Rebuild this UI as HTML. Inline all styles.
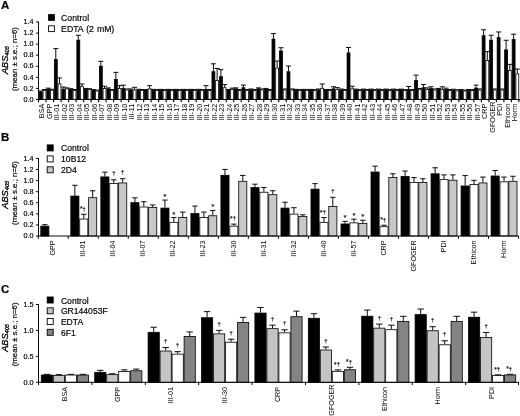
<!DOCTYPE html>
<html lang="en">
<head>
<meta charset="utf-8">
<title>Figure</title>
<style>
html,body{margin:0;padding:0;background:#fff;}
svg{display:block;filter:grayscale(1);}
svg text{font-family:"Liberation Sans", Arial, sans-serif;stroke:#000;stroke-width:0.18px;}
</style>
</head>
<body>
<svg width="520" height="416" viewBox="0 0 520 416">
<rect x="0" y="0" width="520" height="416" fill="#fff"/>
<text x="1.00" y="9.20" font-size="11.5" text-anchor="start" font-weight="bold" fill="#000">A</text>
<line x1="40.80" y1="91.47" x2="40.80" y2="90.92" stroke="#000" stroke-width="0.95"/>
<line x1="38.30" y1="90.92" x2="43.30" y2="90.92" stroke="#000" stroke-width="0.95"/>
<rect x="39.35" y="91.87" width="2.90" height="7.63" fill="#000" stroke="#000" stroke-width="0.8"/>
<line x1="44.50" y1="90.09" x2="44.50" y2="89.54" stroke="#000" stroke-width="0.95"/>
<line x1="42.00" y1="89.54" x2="47.00" y2="89.54" stroke="#000" stroke-width="0.95"/>
<rect x="43.05" y="90.49" width="2.90" height="9.01" fill="#fff" stroke="#000" stroke-width="0.8"/>
<line x1="38.60" y1="99.50" x2="38.60" y2="102.20" stroke="#000" stroke-width="1.1"/>
<text transform="translate(44.34 103.75) rotate(-90)" font-size="7.2" text-anchor="end" style="stroke:none">BSA</text>
<line x1="48.31" y1="88.70" x2="48.31" y2="88.15" stroke="#000" stroke-width="0.95"/>
<line x1="45.81" y1="88.15" x2="50.81" y2="88.15" stroke="#000" stroke-width="0.95"/>
<rect x="46.86" y="89.10" width="2.90" height="10.40" fill="#000" stroke="#000" stroke-width="0.8"/>
<line x1="52.01" y1="89.81" x2="52.01" y2="89.26" stroke="#000" stroke-width="0.95"/>
<line x1="49.51" y1="89.26" x2="54.51" y2="89.26" stroke="#000" stroke-width="0.95"/>
<rect x="50.56" y="90.21" width="2.90" height="9.29" fill="#fff" stroke="#000" stroke-width="0.8"/>
<line x1="46.11" y1="99.50" x2="46.11" y2="102.20" stroke="#000" stroke-width="1.1"/>
<text transform="translate(51.85 103.75) rotate(-90)" font-size="7.2" text-anchor="end" style="stroke:none">GPP</text>
<line x1="55.81" y1="59.09" x2="55.81" y2="48.57" stroke="#000" stroke-width="0.95"/>
<line x1="53.31" y1="48.57" x2="58.31" y2="48.57" stroke="#000" stroke-width="0.95"/>
<rect x="54.36" y="59.49" width="2.90" height="40.01" fill="#000" stroke="#000" stroke-width="0.8"/>
<line x1="59.51" y1="83.45" x2="59.51" y2="77.91" stroke="#000" stroke-width="0.95"/>
<line x1="57.01" y1="77.91" x2="62.01" y2="77.91" stroke="#000" stroke-width="0.95"/>
<rect x="58.06" y="83.85" width="2.90" height="15.65" fill="#fff" stroke="#000" stroke-width="0.8"/>
<line x1="53.61" y1="99.50" x2="53.61" y2="102.20" stroke="#000" stroke-width="1.1"/>
<text transform="translate(59.35 103.75) rotate(-90)" font-size="7.2" text-anchor="end" style="stroke:none">III-01</text>
<line x1="63.32" y1="88.70" x2="63.32" y2="87.04" stroke="#000" stroke-width="0.95"/>
<line x1="60.82" y1="87.04" x2="65.81" y2="87.04" stroke="#000" stroke-width="0.95"/>
<rect x="61.87" y="89.10" width="2.90" height="10.40" fill="#000" stroke="#000" stroke-width="0.8"/>
<line x1="67.02" y1="88.43" x2="67.02" y2="87.87" stroke="#000" stroke-width="0.95"/>
<line x1="64.52" y1="87.87" x2="69.52" y2="87.87" stroke="#000" stroke-width="0.95"/>
<rect x="65.57" y="88.83" width="2.90" height="10.67" fill="#fff" stroke="#000" stroke-width="0.8"/>
<line x1="61.12" y1="99.50" x2="61.12" y2="102.20" stroke="#000" stroke-width="1.1"/>
<text transform="translate(66.86 103.75) rotate(-90)" font-size="7.2" text-anchor="end" style="stroke:none">III-02</text>
<line x1="70.82" y1="89.26" x2="70.82" y2="88.70" stroke="#000" stroke-width="0.95"/>
<line x1="68.32" y1="88.70" x2="73.32" y2="88.70" stroke="#000" stroke-width="0.95"/>
<rect x="69.37" y="89.66" width="2.90" height="9.84" fill="#000" stroke="#000" stroke-width="0.8"/>
<line x1="74.52" y1="90.09" x2="74.52" y2="89.54" stroke="#000" stroke-width="0.95"/>
<line x1="72.02" y1="89.54" x2="77.02" y2="89.54" stroke="#000" stroke-width="0.95"/>
<rect x="73.07" y="90.49" width="2.90" height="9.01" fill="#fff" stroke="#000" stroke-width="0.8"/>
<line x1="68.62" y1="99.50" x2="68.62" y2="102.20" stroke="#000" stroke-width="1.1"/>
<text transform="translate(74.36 103.75) rotate(-90)" font-size="7.2" text-anchor="end" style="stroke:none">III-03</text>
<line x1="78.32" y1="39.71" x2="78.32" y2="35.28" stroke="#000" stroke-width="0.95"/>
<line x1="75.82" y1="35.28" x2="80.82" y2="35.28" stroke="#000" stroke-width="0.95"/>
<rect x="76.88" y="40.11" width="2.90" height="59.39" fill="#000" stroke="#000" stroke-width="0.8"/>
<line x1="82.02" y1="86.21" x2="82.02" y2="84.00" stroke="#000" stroke-width="0.95"/>
<line x1="79.52" y1="84.00" x2="84.52" y2="84.00" stroke="#000" stroke-width="0.95"/>
<rect x="80.58" y="86.61" width="2.90" height="12.89" fill="#fff" stroke="#000" stroke-width="0.8"/>
<line x1="76.12" y1="99.50" x2="76.12" y2="102.20" stroke="#000" stroke-width="1.1"/>
<text transform="translate(81.87 103.75) rotate(-90)" font-size="7.2" text-anchor="end" style="stroke:none">III-04</text>
<line x1="85.83" y1="88.98" x2="85.83" y2="88.43" stroke="#000" stroke-width="0.95"/>
<line x1="83.33" y1="88.43" x2="88.33" y2="88.43" stroke="#000" stroke-width="0.95"/>
<rect x="84.38" y="89.38" width="2.90" height="10.12" fill="#000" stroke="#000" stroke-width="0.8"/>
<line x1="89.53" y1="89.26" x2="89.53" y2="88.70" stroke="#000" stroke-width="0.95"/>
<line x1="87.03" y1="88.70" x2="92.03" y2="88.70" stroke="#000" stroke-width="0.95"/>
<rect x="88.08" y="89.66" width="2.90" height="9.84" fill="#fff" stroke="#000" stroke-width="0.8"/>
<line x1="83.63" y1="99.50" x2="83.63" y2="102.20" stroke="#000" stroke-width="1.1"/>
<text transform="translate(89.37 103.75) rotate(-90)" font-size="7.2" text-anchor="end" style="stroke:none">III-05</text>
<line x1="93.33" y1="90.09" x2="93.33" y2="89.54" stroke="#000" stroke-width="0.95"/>
<line x1="90.83" y1="89.54" x2="95.83" y2="89.54" stroke="#000" stroke-width="0.95"/>
<rect x="91.88" y="90.49" width="2.90" height="9.01" fill="#000" stroke="#000" stroke-width="0.8"/>
<line x1="97.03" y1="90.64" x2="97.03" y2="90.09" stroke="#000" stroke-width="0.95"/>
<line x1="94.53" y1="90.09" x2="99.53" y2="90.09" stroke="#000" stroke-width="0.95"/>
<rect x="95.58" y="91.04" width="2.90" height="8.46" fill="#fff" stroke="#000" stroke-width="0.8"/>
<line x1="91.13" y1="99.50" x2="91.13" y2="102.20" stroke="#000" stroke-width="1.1"/>
<text transform="translate(96.88 103.75) rotate(-90)" font-size="7.2" text-anchor="end" style="stroke:none">III-06</text>
<line x1="100.84" y1="65.73" x2="100.84" y2="61.30" stroke="#000" stroke-width="0.95"/>
<line x1="98.34" y1="61.30" x2="103.34" y2="61.30" stroke="#000" stroke-width="0.95"/>
<rect x="99.39" y="66.13" width="2.90" height="33.37" fill="#000" stroke="#000" stroke-width="0.8"/>
<line x1="104.54" y1="88.15" x2="104.54" y2="86.21" stroke="#000" stroke-width="0.95"/>
<line x1="102.04" y1="86.21" x2="107.04" y2="86.21" stroke="#000" stroke-width="0.95"/>
<rect x="103.09" y="88.55" width="2.90" height="10.95" fill="#fff" stroke="#000" stroke-width="0.8"/>
<line x1="98.64" y1="99.50" x2="98.64" y2="102.20" stroke="#000" stroke-width="1.1"/>
<text transform="translate(104.38 103.75) rotate(-90)" font-size="7.2" text-anchor="end" style="stroke:none">III-07</text>
<line x1="108.34" y1="88.43" x2="108.34" y2="87.87" stroke="#000" stroke-width="0.95"/>
<line x1="105.84" y1="87.87" x2="110.84" y2="87.87" stroke="#000" stroke-width="0.95"/>
<rect x="106.90" y="88.83" width="2.90" height="10.67" fill="#000" stroke="#000" stroke-width="0.8"/>
<line x1="112.05" y1="90.09" x2="112.05" y2="89.54" stroke="#000" stroke-width="0.95"/>
<line x1="109.55" y1="89.54" x2="114.55" y2="89.54" stroke="#000" stroke-width="0.95"/>
<rect x="110.60" y="90.49" width="2.90" height="9.01" fill="#fff" stroke="#000" stroke-width="0.8"/>
<line x1="106.15" y1="99.50" x2="106.15" y2="102.20" stroke="#000" stroke-width="1.1"/>
<text transform="translate(111.89 103.75) rotate(-90)" font-size="7.2" text-anchor="end" style="stroke:none">III-08</text>
<line x1="115.85" y1="79.02" x2="115.85" y2="72.37" stroke="#000" stroke-width="0.95"/>
<line x1="113.35" y1="72.37" x2="118.35" y2="72.37" stroke="#000" stroke-width="0.95"/>
<rect x="114.40" y="79.42" width="2.90" height="20.08" fill="#000" stroke="#000" stroke-width="0.8"/>
<line x1="119.55" y1="88.15" x2="119.55" y2="85.66" stroke="#000" stroke-width="0.95"/>
<line x1="117.05" y1="85.66" x2="122.05" y2="85.66" stroke="#000" stroke-width="0.95"/>
<rect x="118.10" y="88.55" width="2.90" height="10.95" fill="#fff" stroke="#000" stroke-width="0.8"/>
<line x1="113.65" y1="99.50" x2="113.65" y2="102.20" stroke="#000" stroke-width="1.1"/>
<text transform="translate(119.39 103.75) rotate(-90)" font-size="7.2" text-anchor="end" style="stroke:none">III-09</text>
<line x1="123.35" y1="88.15" x2="123.35" y2="85.11" stroke="#000" stroke-width="0.95"/>
<line x1="120.85" y1="85.11" x2="125.85" y2="85.11" stroke="#000" stroke-width="0.95"/>
<rect x="121.91" y="88.55" width="2.90" height="10.95" fill="#000" stroke="#000" stroke-width="0.8"/>
<line x1="127.05" y1="89.54" x2="127.05" y2="88.98" stroke="#000" stroke-width="0.95"/>
<line x1="124.55" y1="88.98" x2="129.56" y2="88.98" stroke="#000" stroke-width="0.95"/>
<rect x="125.61" y="89.94" width="2.90" height="9.56" fill="#fff" stroke="#000" stroke-width="0.8"/>
<line x1="121.16" y1="99.50" x2="121.16" y2="102.20" stroke="#000" stroke-width="1.1"/>
<text transform="translate(126.90 103.75) rotate(-90)" font-size="7.2" text-anchor="end" style="stroke:none">III-10</text>
<line x1="130.86" y1="89.54" x2="130.86" y2="88.98" stroke="#000" stroke-width="0.95"/>
<line x1="128.36" y1="88.98" x2="133.36" y2="88.98" stroke="#000" stroke-width="0.95"/>
<rect x="129.41" y="89.94" width="2.90" height="9.56" fill="#000" stroke="#000" stroke-width="0.8"/>
<line x1="134.56" y1="89.54" x2="134.56" y2="87.32" stroke="#000" stroke-width="0.95"/>
<line x1="132.06" y1="87.32" x2="137.06" y2="87.32" stroke="#000" stroke-width="0.95"/>
<rect x="133.11" y="89.94" width="2.90" height="9.56" fill="#fff" stroke="#000" stroke-width="0.8"/>
<line x1="128.66" y1="99.50" x2="128.66" y2="102.20" stroke="#000" stroke-width="1.1"/>
<text transform="translate(134.40 103.75) rotate(-90)" font-size="7.2" text-anchor="end" style="stroke:none">III-11</text>
<line x1="138.36" y1="89.81" x2="138.36" y2="89.26" stroke="#000" stroke-width="0.95"/>
<line x1="135.86" y1="89.26" x2="140.86" y2="89.26" stroke="#000" stroke-width="0.95"/>
<rect x="136.91" y="90.21" width="2.90" height="9.29" fill="#000" stroke="#000" stroke-width="0.8"/>
<line x1="142.06" y1="90.09" x2="142.06" y2="89.54" stroke="#000" stroke-width="0.95"/>
<line x1="139.56" y1="89.54" x2="144.56" y2="89.54" stroke="#000" stroke-width="0.95"/>
<rect x="140.61" y="90.49" width="2.90" height="9.01" fill="#fff" stroke="#000" stroke-width="0.8"/>
<line x1="136.16" y1="99.50" x2="136.16" y2="102.20" stroke="#000" stroke-width="1.1"/>
<text transform="translate(141.91 103.75) rotate(-90)" font-size="7.2" text-anchor="end" style="stroke:none">III-12</text>
<line x1="145.87" y1="90.09" x2="145.87" y2="89.54" stroke="#000" stroke-width="0.95"/>
<line x1="143.37" y1="89.54" x2="148.37" y2="89.54" stroke="#000" stroke-width="0.95"/>
<rect x="144.42" y="90.49" width="2.90" height="9.01" fill="#000" stroke="#000" stroke-width="0.8"/>
<line x1="149.57" y1="88.43" x2="149.57" y2="85.66" stroke="#000" stroke-width="0.95"/>
<line x1="147.07" y1="85.66" x2="152.07" y2="85.66" stroke="#000" stroke-width="0.95"/>
<rect x="148.12" y="88.83" width="2.90" height="10.67" fill="#fff" stroke="#000" stroke-width="0.8"/>
<line x1="143.67" y1="99.50" x2="143.67" y2="102.20" stroke="#000" stroke-width="1.1"/>
<text transform="translate(149.41 103.75) rotate(-90)" font-size="7.2" text-anchor="end" style="stroke:none">III-13</text>
<line x1="153.38" y1="89.81" x2="153.38" y2="89.37" stroke="#000" stroke-width="0.95"/>
<line x1="150.88" y1="89.37" x2="155.88" y2="89.37" stroke="#000" stroke-width="0.95"/>
<rect x="151.93" y="90.21" width="2.90" height="9.29" fill="#000" stroke="#000" stroke-width="0.8"/>
<line x1="157.07" y1="90.09" x2="157.07" y2="89.65" stroke="#000" stroke-width="0.95"/>
<line x1="154.57" y1="89.65" x2="159.57" y2="89.65" stroke="#000" stroke-width="0.95"/>
<rect x="155.62" y="90.49" width="2.90" height="9.01" fill="#fff" stroke="#000" stroke-width="0.8"/>
<line x1="151.18" y1="99.50" x2="151.18" y2="102.20" stroke="#000" stroke-width="1.1"/>
<text transform="translate(156.92 103.75) rotate(-90)" font-size="7.2" text-anchor="end" style="stroke:none">III-14</text>
<line x1="160.88" y1="89.81" x2="160.88" y2="89.37" stroke="#000" stroke-width="0.95"/>
<line x1="158.38" y1="89.37" x2="163.38" y2="89.37" stroke="#000" stroke-width="0.95"/>
<rect x="159.43" y="90.21" width="2.90" height="9.29" fill="#000" stroke="#000" stroke-width="0.8"/>
<line x1="164.58" y1="90.09" x2="164.58" y2="89.65" stroke="#000" stroke-width="0.95"/>
<line x1="162.08" y1="89.65" x2="167.08" y2="89.65" stroke="#000" stroke-width="0.95"/>
<rect x="163.13" y="90.49" width="2.90" height="9.01" fill="#fff" stroke="#000" stroke-width="0.8"/>
<line x1="158.68" y1="99.50" x2="158.68" y2="102.20" stroke="#000" stroke-width="1.1"/>
<text transform="translate(164.42 103.75) rotate(-90)" font-size="7.2" text-anchor="end" style="stroke:none">III-15</text>
<line x1="168.38" y1="89.81" x2="168.38" y2="89.37" stroke="#000" stroke-width="0.95"/>
<line x1="165.88" y1="89.37" x2="170.88" y2="89.37" stroke="#000" stroke-width="0.95"/>
<rect x="166.94" y="90.21" width="2.90" height="9.29" fill="#000" stroke="#000" stroke-width="0.8"/>
<line x1="172.08" y1="90.09" x2="172.08" y2="89.65" stroke="#000" stroke-width="0.95"/>
<line x1="169.58" y1="89.65" x2="174.58" y2="89.65" stroke="#000" stroke-width="0.95"/>
<rect x="170.63" y="90.49" width="2.90" height="9.01" fill="#fff" stroke="#000" stroke-width="0.8"/>
<line x1="166.19" y1="99.50" x2="166.19" y2="102.20" stroke="#000" stroke-width="1.1"/>
<text transform="translate(171.93 103.75) rotate(-90)" font-size="7.2" text-anchor="end" style="stroke:none">III-16</text>
<line x1="175.89" y1="89.81" x2="175.89" y2="89.37" stroke="#000" stroke-width="0.95"/>
<line x1="173.39" y1="89.37" x2="178.39" y2="89.37" stroke="#000" stroke-width="0.95"/>
<rect x="174.44" y="90.21" width="2.90" height="9.29" fill="#000" stroke="#000" stroke-width="0.8"/>
<line x1="179.59" y1="90.09" x2="179.59" y2="89.65" stroke="#000" stroke-width="0.95"/>
<line x1="177.09" y1="89.65" x2="182.09" y2="89.65" stroke="#000" stroke-width="0.95"/>
<rect x="178.14" y="90.49" width="2.90" height="9.01" fill="#fff" stroke="#000" stroke-width="0.8"/>
<line x1="173.69" y1="99.50" x2="173.69" y2="102.20" stroke="#000" stroke-width="1.1"/>
<text transform="translate(179.43 103.75) rotate(-90)" font-size="7.2" text-anchor="end" style="stroke:none">III-17</text>
<line x1="183.39" y1="89.81" x2="183.39" y2="89.37" stroke="#000" stroke-width="0.95"/>
<line x1="180.89" y1="89.37" x2="185.89" y2="89.37" stroke="#000" stroke-width="0.95"/>
<rect x="181.94" y="90.21" width="2.90" height="9.29" fill="#000" stroke="#000" stroke-width="0.8"/>
<line x1="187.09" y1="90.09" x2="187.09" y2="89.65" stroke="#000" stroke-width="0.95"/>
<line x1="184.59" y1="89.65" x2="189.59" y2="89.65" stroke="#000" stroke-width="0.95"/>
<rect x="185.64" y="90.49" width="2.90" height="9.01" fill="#fff" stroke="#000" stroke-width="0.8"/>
<line x1="181.19" y1="99.50" x2="181.19" y2="102.20" stroke="#000" stroke-width="1.1"/>
<text transform="translate(186.94 103.75) rotate(-90)" font-size="7.2" text-anchor="end" style="stroke:none">III-18</text>
<line x1="190.90" y1="89.81" x2="190.90" y2="89.37" stroke="#000" stroke-width="0.95"/>
<line x1="188.40" y1="89.37" x2="193.40" y2="89.37" stroke="#000" stroke-width="0.95"/>
<rect x="189.45" y="90.21" width="2.90" height="9.29" fill="#000" stroke="#000" stroke-width="0.8"/>
<line x1="194.60" y1="90.09" x2="194.60" y2="89.65" stroke="#000" stroke-width="0.95"/>
<line x1="192.10" y1="89.65" x2="197.10" y2="89.65" stroke="#000" stroke-width="0.95"/>
<rect x="193.15" y="90.49" width="2.90" height="9.01" fill="#fff" stroke="#000" stroke-width="0.8"/>
<line x1="188.70" y1="99.50" x2="188.70" y2="102.20" stroke="#000" stroke-width="1.1"/>
<text transform="translate(194.44 103.75) rotate(-90)" font-size="7.2" text-anchor="end" style="stroke:none">III-19</text>
<line x1="198.40" y1="89.81" x2="198.40" y2="89.37" stroke="#000" stroke-width="0.95"/>
<line x1="195.90" y1="89.37" x2="200.90" y2="89.37" stroke="#000" stroke-width="0.95"/>
<rect x="196.95" y="90.21" width="2.90" height="9.29" fill="#000" stroke="#000" stroke-width="0.8"/>
<line x1="202.10" y1="90.09" x2="202.10" y2="89.65" stroke="#000" stroke-width="0.95"/>
<line x1="199.60" y1="89.65" x2="204.60" y2="89.65" stroke="#000" stroke-width="0.95"/>
<rect x="200.65" y="90.49" width="2.90" height="9.01" fill="#fff" stroke="#000" stroke-width="0.8"/>
<line x1="196.20" y1="99.50" x2="196.20" y2="102.20" stroke="#000" stroke-width="1.1"/>
<text transform="translate(201.95 103.75) rotate(-90)" font-size="7.2" text-anchor="end" style="stroke:none">III-20</text>
<line x1="205.91" y1="88.98" x2="205.91" y2="85.66" stroke="#000" stroke-width="0.95"/>
<line x1="203.41" y1="85.66" x2="208.41" y2="85.66" stroke="#000" stroke-width="0.95"/>
<rect x="204.46" y="89.38" width="2.90" height="10.12" fill="#000" stroke="#000" stroke-width="0.8"/>
<line x1="209.61" y1="90.09" x2="209.61" y2="89.54" stroke="#000" stroke-width="0.95"/>
<line x1="207.11" y1="89.54" x2="212.11" y2="89.54" stroke="#000" stroke-width="0.95"/>
<rect x="208.16" y="90.49" width="2.90" height="9.01" fill="#fff" stroke="#000" stroke-width="0.8"/>
<line x1="203.71" y1="99.50" x2="203.71" y2="102.20" stroke="#000" stroke-width="1.1"/>
<text transform="translate(209.45 103.75) rotate(-90)" font-size="7.2" text-anchor="end" style="stroke:none">III-21</text>
<line x1="213.41" y1="71.27" x2="213.41" y2="63.79" stroke="#000" stroke-width="0.95"/>
<line x1="210.91" y1="63.79" x2="215.91" y2="63.79" stroke="#000" stroke-width="0.95"/>
<rect x="211.97" y="71.67" width="2.90" height="27.83" fill="#000" stroke="#000" stroke-width="0.8"/>
<line x1="217.11" y1="80.12" x2="217.11" y2="68.50" stroke="#000" stroke-width="0.95"/>
<line x1="214.61" y1="68.50" x2="219.61" y2="68.50" stroke="#000" stroke-width="0.95"/>
<rect x="215.66" y="80.52" width="2.90" height="18.98" fill="#fff" stroke="#000" stroke-width="0.8"/>
<line x1="211.22" y1="99.50" x2="211.22" y2="102.20" stroke="#000" stroke-width="1.1"/>
<text transform="translate(216.96 103.75) rotate(-90)" font-size="7.2" text-anchor="end" style="stroke:none">III-22</text>
<line x1="220.92" y1="76.25" x2="220.92" y2="69.61" stroke="#000" stroke-width="0.95"/>
<line x1="218.42" y1="69.61" x2="223.42" y2="69.61" stroke="#000" stroke-width="0.95"/>
<rect x="219.47" y="76.65" width="2.90" height="22.85" fill="#000" stroke="#000" stroke-width="0.8"/>
<line x1="224.62" y1="87.32" x2="224.62" y2="84.55" stroke="#000" stroke-width="0.95"/>
<line x1="222.12" y1="84.55" x2="227.12" y2="84.55" stroke="#000" stroke-width="0.95"/>
<rect x="223.17" y="87.72" width="2.90" height="11.78" fill="#fff" stroke="#000" stroke-width="0.8"/>
<line x1="218.72" y1="99.50" x2="218.72" y2="102.20" stroke="#000" stroke-width="1.1"/>
<text transform="translate(224.46 103.75) rotate(-90)" font-size="7.2" text-anchor="end" style="stroke:none">III-23</text>
<line x1="228.42" y1="90.09" x2="228.42" y2="89.54" stroke="#000" stroke-width="0.95"/>
<line x1="225.92" y1="89.54" x2="230.92" y2="89.54" stroke="#000" stroke-width="0.95"/>
<rect x="226.97" y="90.49" width="2.90" height="9.01" fill="#000" stroke="#000" stroke-width="0.8"/>
<line x1="232.12" y1="88.98" x2="232.12" y2="88.15" stroke="#000" stroke-width="0.95"/>
<line x1="229.62" y1="88.15" x2="234.62" y2="88.15" stroke="#000" stroke-width="0.95"/>
<rect x="230.67" y="89.38" width="2.90" height="10.12" fill="#fff" stroke="#000" stroke-width="0.8"/>
<line x1="226.22" y1="99.50" x2="226.22" y2="102.20" stroke="#000" stroke-width="1.1"/>
<text transform="translate(231.97 103.75) rotate(-90)" font-size="7.2" text-anchor="end" style="stroke:none">III-24</text>
<line x1="235.93" y1="88.43" x2="235.93" y2="87.87" stroke="#000" stroke-width="0.95"/>
<line x1="233.43" y1="87.87" x2="238.43" y2="87.87" stroke="#000" stroke-width="0.95"/>
<rect x="234.48" y="88.83" width="2.90" height="10.67" fill="#000" stroke="#000" stroke-width="0.8"/>
<line x1="239.63" y1="90.09" x2="239.63" y2="89.54" stroke="#000" stroke-width="0.95"/>
<line x1="237.13" y1="89.54" x2="242.13" y2="89.54" stroke="#000" stroke-width="0.95"/>
<rect x="238.18" y="90.49" width="2.90" height="9.01" fill="#fff" stroke="#000" stroke-width="0.8"/>
<line x1="233.73" y1="99.50" x2="233.73" y2="102.20" stroke="#000" stroke-width="1.1"/>
<text transform="translate(239.47 103.75) rotate(-90)" font-size="7.2" text-anchor="end" style="stroke:none">III-25</text>
<line x1="243.43" y1="87.32" x2="243.43" y2="85.11" stroke="#000" stroke-width="0.95"/>
<line x1="240.93" y1="85.11" x2="245.93" y2="85.11" stroke="#000" stroke-width="0.95"/>
<rect x="241.98" y="87.72" width="2.90" height="11.78" fill="#000" stroke="#000" stroke-width="0.8"/>
<line x1="247.13" y1="90.09" x2="247.13" y2="89.54" stroke="#000" stroke-width="0.95"/>
<line x1="244.63" y1="89.54" x2="249.63" y2="89.54" stroke="#000" stroke-width="0.95"/>
<rect x="245.68" y="90.49" width="2.90" height="9.01" fill="#fff" stroke="#000" stroke-width="0.8"/>
<line x1="241.23" y1="99.50" x2="241.23" y2="102.20" stroke="#000" stroke-width="1.1"/>
<text transform="translate(246.98 103.75) rotate(-90)" font-size="7.2" text-anchor="end" style="stroke:none">III-26</text>
<line x1="250.94" y1="89.54" x2="250.94" y2="88.98" stroke="#000" stroke-width="0.95"/>
<line x1="248.44" y1="88.98" x2="253.44" y2="88.98" stroke="#000" stroke-width="0.95"/>
<rect x="249.49" y="89.94" width="2.90" height="9.56" fill="#000" stroke="#000" stroke-width="0.8"/>
<line x1="254.64" y1="90.09" x2="254.64" y2="89.54" stroke="#000" stroke-width="0.95"/>
<line x1="252.14" y1="89.54" x2="257.14" y2="89.54" stroke="#000" stroke-width="0.95"/>
<rect x="253.19" y="90.49" width="2.90" height="9.01" fill="#fff" stroke="#000" stroke-width="0.8"/>
<line x1="248.74" y1="99.50" x2="248.74" y2="102.20" stroke="#000" stroke-width="1.1"/>
<text transform="translate(254.48 103.75) rotate(-90)" font-size="7.2" text-anchor="end" style="stroke:none">III-27</text>
<line x1="258.45" y1="88.43" x2="258.45" y2="87.87" stroke="#000" stroke-width="0.95"/>
<line x1="255.95" y1="87.87" x2="260.95" y2="87.87" stroke="#000" stroke-width="0.95"/>
<rect x="257.00" y="88.83" width="2.90" height="10.67" fill="#000" stroke="#000" stroke-width="0.8"/>
<line x1="262.15" y1="89.54" x2="262.15" y2="88.98" stroke="#000" stroke-width="0.95"/>
<line x1="259.65" y1="88.98" x2="264.65" y2="88.98" stroke="#000" stroke-width="0.95"/>
<rect x="260.69" y="89.94" width="2.90" height="9.56" fill="#fff" stroke="#000" stroke-width="0.8"/>
<line x1="256.25" y1="99.50" x2="256.25" y2="102.20" stroke="#000" stroke-width="1.1"/>
<text transform="translate(261.99 103.75) rotate(-90)" font-size="7.2" text-anchor="end" style="stroke:none">III-28</text>
<line x1="265.95" y1="88.98" x2="265.95" y2="88.43" stroke="#000" stroke-width="0.95"/>
<line x1="263.45" y1="88.43" x2="268.45" y2="88.43" stroke="#000" stroke-width="0.95"/>
<rect x="264.50" y="89.38" width="2.90" height="10.12" fill="#000" stroke="#000" stroke-width="0.8"/>
<line x1="269.65" y1="90.09" x2="269.65" y2="89.54" stroke="#000" stroke-width="0.95"/>
<line x1="267.15" y1="89.54" x2="272.15" y2="89.54" stroke="#000" stroke-width="0.95"/>
<rect x="268.20" y="90.49" width="2.90" height="9.01" fill="#fff" stroke="#000" stroke-width="0.8"/>
<line x1="263.75" y1="99.50" x2="263.75" y2="102.20" stroke="#000" stroke-width="1.1"/>
<text transform="translate(269.49 103.75) rotate(-90)" font-size="7.2" text-anchor="end" style="stroke:none">III-29</text>
<line x1="273.46" y1="38.60" x2="273.46" y2="33.62" stroke="#000" stroke-width="0.95"/>
<line x1="270.96" y1="33.62" x2="275.96" y2="33.62" stroke="#000" stroke-width="0.95"/>
<rect x="272.00" y="39.00" width="2.90" height="60.50" fill="#000" stroke="#000" stroke-width="0.8"/>
<line x1="277.16" y1="67.67" x2="277.16" y2="61.02" stroke="#000" stroke-width="0.95"/>
<line x1="274.66" y1="61.02" x2="279.66" y2="61.02" stroke="#000" stroke-width="0.95"/>
<rect x="275.70" y="68.07" width="2.90" height="31.43" fill="#fff" stroke="#000" stroke-width="0.8"/>
<line x1="271.25" y1="99.50" x2="271.25" y2="102.20" stroke="#000" stroke-width="1.1"/>
<text transform="translate(277.00 103.75) rotate(-90)" font-size="7.2" text-anchor="end" style="stroke:none">III-30</text>
<line x1="280.96" y1="50.51" x2="280.96" y2="47.74" stroke="#000" stroke-width="0.95"/>
<line x1="278.46" y1="47.74" x2="283.46" y2="47.74" stroke="#000" stroke-width="0.95"/>
<rect x="279.51" y="50.91" width="2.90" height="48.59" fill="#000" stroke="#000" stroke-width="0.8"/>
<line x1="284.66" y1="89.54" x2="284.66" y2="88.98" stroke="#000" stroke-width="0.95"/>
<line x1="282.16" y1="88.98" x2="287.16" y2="88.98" stroke="#000" stroke-width="0.95"/>
<rect x="283.21" y="89.94" width="2.90" height="9.56" fill="#fff" stroke="#000" stroke-width="0.8"/>
<line x1="278.76" y1="99.50" x2="278.76" y2="102.20" stroke="#000" stroke-width="1.1"/>
<text transform="translate(284.50 103.75) rotate(-90)" font-size="7.2" text-anchor="end" style="stroke:none">III-31</text>
<line x1="288.47" y1="71.27" x2="288.47" y2="66.01" stroke="#000" stroke-width="0.95"/>
<line x1="285.97" y1="66.01" x2="290.97" y2="66.01" stroke="#000" stroke-width="0.95"/>
<rect x="287.01" y="71.67" width="2.90" height="27.83" fill="#000" stroke="#000" stroke-width="0.8"/>
<line x1="292.17" y1="89.54" x2="292.17" y2="88.98" stroke="#000" stroke-width="0.95"/>
<line x1="289.67" y1="88.98" x2="294.67" y2="88.98" stroke="#000" stroke-width="0.95"/>
<rect x="290.71" y="89.94" width="2.90" height="9.56" fill="#fff" stroke="#000" stroke-width="0.8"/>
<line x1="286.26" y1="99.50" x2="286.26" y2="102.20" stroke="#000" stroke-width="1.1"/>
<text transform="translate(292.01 103.75) rotate(-90)" font-size="7.2" text-anchor="end" style="stroke:none">III-32</text>
<line x1="295.97" y1="89.81" x2="295.97" y2="89.37" stroke="#000" stroke-width="0.95"/>
<line x1="293.47" y1="89.37" x2="298.47" y2="89.37" stroke="#000" stroke-width="0.95"/>
<rect x="294.52" y="90.21" width="2.90" height="9.29" fill="#000" stroke="#000" stroke-width="0.8"/>
<line x1="299.67" y1="90.09" x2="299.67" y2="89.65" stroke="#000" stroke-width="0.95"/>
<line x1="297.17" y1="89.65" x2="302.17" y2="89.65" stroke="#000" stroke-width="0.95"/>
<rect x="298.22" y="90.49" width="2.90" height="9.01" fill="#fff" stroke="#000" stroke-width="0.8"/>
<line x1="293.77" y1="99.50" x2="293.77" y2="102.20" stroke="#000" stroke-width="1.1"/>
<text transform="translate(299.51 103.75) rotate(-90)" font-size="7.2" text-anchor="end" style="stroke:none">III-33</text>
<line x1="303.48" y1="89.81" x2="303.48" y2="89.37" stroke="#000" stroke-width="0.95"/>
<line x1="300.98" y1="89.37" x2="305.98" y2="89.37" stroke="#000" stroke-width="0.95"/>
<rect x="302.03" y="90.21" width="2.90" height="9.29" fill="#000" stroke="#000" stroke-width="0.8"/>
<line x1="307.18" y1="90.09" x2="307.18" y2="89.65" stroke="#000" stroke-width="0.95"/>
<line x1="304.68" y1="89.65" x2="309.68" y2="89.65" stroke="#000" stroke-width="0.95"/>
<rect x="305.73" y="90.49" width="2.90" height="9.01" fill="#fff" stroke="#000" stroke-width="0.8"/>
<line x1="301.28" y1="99.50" x2="301.28" y2="102.20" stroke="#000" stroke-width="1.1"/>
<text transform="translate(307.02 103.75) rotate(-90)" font-size="7.2" text-anchor="end" style="stroke:none">III-34</text>
<line x1="310.98" y1="89.81" x2="310.98" y2="89.37" stroke="#000" stroke-width="0.95"/>
<line x1="308.48" y1="89.37" x2="313.48" y2="89.37" stroke="#000" stroke-width="0.95"/>
<rect x="309.53" y="90.21" width="2.90" height="9.29" fill="#000" stroke="#000" stroke-width="0.8"/>
<line x1="314.68" y1="90.09" x2="314.68" y2="89.65" stroke="#000" stroke-width="0.95"/>
<line x1="312.18" y1="89.65" x2="317.18" y2="89.65" stroke="#000" stroke-width="0.95"/>
<rect x="313.23" y="90.49" width="2.90" height="9.01" fill="#fff" stroke="#000" stroke-width="0.8"/>
<line x1="308.78" y1="99.50" x2="308.78" y2="102.20" stroke="#000" stroke-width="1.1"/>
<text transform="translate(314.52 103.75) rotate(-90)" font-size="7.2" text-anchor="end" style="stroke:none">III-35</text>
<line x1="318.49" y1="89.54" x2="318.49" y2="88.98" stroke="#000" stroke-width="0.95"/>
<line x1="315.99" y1="88.98" x2="320.99" y2="88.98" stroke="#000" stroke-width="0.95"/>
<rect x="317.04" y="89.94" width="2.90" height="9.56" fill="#000" stroke="#000" stroke-width="0.8"/>
<line x1="322.19" y1="87.87" x2="322.19" y2="84.00" stroke="#000" stroke-width="0.95"/>
<line x1="319.69" y1="84.00" x2="324.69" y2="84.00" stroke="#000" stroke-width="0.95"/>
<rect x="320.74" y="88.27" width="2.90" height="11.23" fill="#fff" stroke="#000" stroke-width="0.8"/>
<line x1="316.29" y1="99.50" x2="316.29" y2="102.20" stroke="#000" stroke-width="1.1"/>
<text transform="translate(322.03 103.75) rotate(-90)" font-size="7.2" text-anchor="end" style="stroke:none">III-36</text>
<line x1="325.99" y1="90.09" x2="325.99" y2="89.54" stroke="#000" stroke-width="0.95"/>
<line x1="323.49" y1="89.54" x2="328.49" y2="89.54" stroke="#000" stroke-width="0.95"/>
<rect x="324.54" y="90.49" width="2.90" height="9.01" fill="#000" stroke="#000" stroke-width="0.8"/>
<line x1="329.69" y1="90.09" x2="329.69" y2="89.54" stroke="#000" stroke-width="0.95"/>
<line x1="327.19" y1="89.54" x2="332.19" y2="89.54" stroke="#000" stroke-width="0.95"/>
<rect x="328.24" y="90.49" width="2.90" height="9.01" fill="#fff" stroke="#000" stroke-width="0.8"/>
<line x1="323.79" y1="99.50" x2="323.79" y2="102.20" stroke="#000" stroke-width="1.1"/>
<text transform="translate(329.53 103.75) rotate(-90)" font-size="7.2" text-anchor="end" style="stroke:none">III-37</text>
<line x1="333.50" y1="88.43" x2="333.50" y2="86.77" stroke="#000" stroke-width="0.95"/>
<line x1="331.00" y1="86.77" x2="336.00" y2="86.77" stroke="#000" stroke-width="0.95"/>
<rect x="332.05" y="88.83" width="2.90" height="10.67" fill="#000" stroke="#000" stroke-width="0.8"/>
<line x1="337.20" y1="88.98" x2="337.20" y2="87.60" stroke="#000" stroke-width="0.95"/>
<line x1="334.70" y1="87.60" x2="339.70" y2="87.60" stroke="#000" stroke-width="0.95"/>
<rect x="335.75" y="89.38" width="2.90" height="10.12" fill="#fff" stroke="#000" stroke-width="0.8"/>
<line x1="331.30" y1="99.50" x2="331.30" y2="102.20" stroke="#000" stroke-width="1.1"/>
<text transform="translate(337.04 103.75) rotate(-90)" font-size="7.2" text-anchor="end" style="stroke:none">III-38</text>
<line x1="341.00" y1="89.54" x2="341.00" y2="88.98" stroke="#000" stroke-width="0.95"/>
<line x1="338.50" y1="88.98" x2="343.50" y2="88.98" stroke="#000" stroke-width="0.95"/>
<rect x="339.55" y="89.94" width="2.90" height="9.56" fill="#000" stroke="#000" stroke-width="0.8"/>
<line x1="344.70" y1="90.09" x2="344.70" y2="89.54" stroke="#000" stroke-width="0.95"/>
<line x1="342.20" y1="89.54" x2="347.20" y2="89.54" stroke="#000" stroke-width="0.95"/>
<rect x="343.25" y="90.49" width="2.90" height="9.01" fill="#fff" stroke="#000" stroke-width="0.8"/>
<line x1="338.80" y1="99.50" x2="338.80" y2="102.20" stroke="#000" stroke-width="1.1"/>
<text transform="translate(344.54 103.75) rotate(-90)" font-size="7.2" text-anchor="end" style="stroke:none">III-39</text>
<line x1="348.51" y1="52.44" x2="348.51" y2="47.46" stroke="#000" stroke-width="0.95"/>
<line x1="346.01" y1="47.46" x2="351.01" y2="47.46" stroke="#000" stroke-width="0.95"/>
<rect x="347.06" y="52.84" width="2.90" height="46.66" fill="#000" stroke="#000" stroke-width="0.8"/>
<line x1="352.21" y1="88.43" x2="352.21" y2="86.21" stroke="#000" stroke-width="0.95"/>
<line x1="349.71" y1="86.21" x2="354.71" y2="86.21" stroke="#000" stroke-width="0.95"/>
<rect x="350.75" y="88.83" width="2.90" height="10.67" fill="#fff" stroke="#000" stroke-width="0.8"/>
<line x1="346.31" y1="99.50" x2="346.31" y2="102.20" stroke="#000" stroke-width="1.1"/>
<text transform="translate(352.05 103.75) rotate(-90)" font-size="7.2" text-anchor="end" style="stroke:none">III-40</text>
<line x1="356.01" y1="89.54" x2="356.01" y2="89.09" stroke="#000" stroke-width="0.95"/>
<line x1="353.51" y1="89.09" x2="358.51" y2="89.09" stroke="#000" stroke-width="0.95"/>
<rect x="354.56" y="89.94" width="2.90" height="9.56" fill="#000" stroke="#000" stroke-width="0.8"/>
<line x1="359.71" y1="90.09" x2="359.71" y2="89.65" stroke="#000" stroke-width="0.95"/>
<line x1="357.21" y1="89.65" x2="362.21" y2="89.65" stroke="#000" stroke-width="0.95"/>
<rect x="358.26" y="90.49" width="2.90" height="9.01" fill="#fff" stroke="#000" stroke-width="0.8"/>
<line x1="353.81" y1="99.50" x2="353.81" y2="102.20" stroke="#000" stroke-width="1.1"/>
<text transform="translate(359.55 103.75) rotate(-90)" font-size="7.2" text-anchor="end" style="stroke:none">III-41</text>
<line x1="363.52" y1="89.54" x2="363.52" y2="89.09" stroke="#000" stroke-width="0.95"/>
<line x1="361.02" y1="89.09" x2="366.02" y2="89.09" stroke="#000" stroke-width="0.95"/>
<rect x="362.06" y="89.94" width="2.90" height="9.56" fill="#000" stroke="#000" stroke-width="0.8"/>
<line x1="367.22" y1="90.09" x2="367.22" y2="89.65" stroke="#000" stroke-width="0.95"/>
<line x1="364.72" y1="89.65" x2="369.72" y2="89.65" stroke="#000" stroke-width="0.95"/>
<rect x="365.76" y="90.49" width="2.90" height="9.01" fill="#fff" stroke="#000" stroke-width="0.8"/>
<line x1="361.31" y1="99.50" x2="361.31" y2="102.20" stroke="#000" stroke-width="1.1"/>
<text transform="translate(367.06 103.75) rotate(-90)" font-size="7.2" text-anchor="end" style="stroke:none">III-42</text>
<line x1="371.02" y1="89.54" x2="371.02" y2="89.09" stroke="#000" stroke-width="0.95"/>
<line x1="368.52" y1="89.09" x2="373.52" y2="89.09" stroke="#000" stroke-width="0.95"/>
<rect x="369.57" y="89.94" width="2.90" height="9.56" fill="#000" stroke="#000" stroke-width="0.8"/>
<line x1="374.72" y1="90.09" x2="374.72" y2="89.65" stroke="#000" stroke-width="0.95"/>
<line x1="372.22" y1="89.65" x2="377.22" y2="89.65" stroke="#000" stroke-width="0.95"/>
<rect x="373.27" y="90.49" width="2.90" height="9.01" fill="#fff" stroke="#000" stroke-width="0.8"/>
<line x1="368.82" y1="99.50" x2="368.82" y2="102.20" stroke="#000" stroke-width="1.1"/>
<text transform="translate(374.56 103.75) rotate(-90)" font-size="7.2" text-anchor="end" style="stroke:none">III-43</text>
<line x1="378.53" y1="89.54" x2="378.53" y2="89.09" stroke="#000" stroke-width="0.95"/>
<line x1="376.03" y1="89.09" x2="381.03" y2="89.09" stroke="#000" stroke-width="0.95"/>
<rect x="377.08" y="89.94" width="2.90" height="9.56" fill="#000" stroke="#000" stroke-width="0.8"/>
<line x1="382.23" y1="90.09" x2="382.23" y2="89.65" stroke="#000" stroke-width="0.95"/>
<line x1="379.73" y1="89.65" x2="384.73" y2="89.65" stroke="#000" stroke-width="0.95"/>
<rect x="380.78" y="90.49" width="2.90" height="9.01" fill="#fff" stroke="#000" stroke-width="0.8"/>
<line x1="376.33" y1="99.50" x2="376.33" y2="102.20" stroke="#000" stroke-width="1.1"/>
<text transform="translate(382.07 103.75) rotate(-90)" font-size="7.2" text-anchor="end" style="stroke:none">III-44</text>
<line x1="386.03" y1="89.54" x2="386.03" y2="89.09" stroke="#000" stroke-width="0.95"/>
<line x1="383.53" y1="89.09" x2="388.53" y2="89.09" stroke="#000" stroke-width="0.95"/>
<rect x="384.58" y="89.94" width="2.90" height="9.56" fill="#000" stroke="#000" stroke-width="0.8"/>
<line x1="389.73" y1="90.09" x2="389.73" y2="89.65" stroke="#000" stroke-width="0.95"/>
<line x1="387.23" y1="89.65" x2="392.23" y2="89.65" stroke="#000" stroke-width="0.95"/>
<rect x="388.28" y="90.49" width="2.90" height="9.01" fill="#fff" stroke="#000" stroke-width="0.8"/>
<line x1="383.83" y1="99.50" x2="383.83" y2="102.20" stroke="#000" stroke-width="1.1"/>
<text transform="translate(389.57 103.75) rotate(-90)" font-size="7.2" text-anchor="end" style="stroke:none">III-45</text>
<line x1="393.54" y1="89.54" x2="393.54" y2="89.09" stroke="#000" stroke-width="0.95"/>
<line x1="391.04" y1="89.09" x2="396.04" y2="89.09" stroke="#000" stroke-width="0.95"/>
<rect x="392.09" y="89.94" width="2.90" height="9.56" fill="#000" stroke="#000" stroke-width="0.8"/>
<line x1="397.24" y1="90.09" x2="397.24" y2="89.65" stroke="#000" stroke-width="0.95"/>
<line x1="394.74" y1="89.65" x2="399.74" y2="89.65" stroke="#000" stroke-width="0.95"/>
<rect x="395.79" y="90.49" width="2.90" height="9.01" fill="#fff" stroke="#000" stroke-width="0.8"/>
<line x1="391.34" y1="99.50" x2="391.34" y2="102.20" stroke="#000" stroke-width="1.1"/>
<text transform="translate(397.08 103.75) rotate(-90)" font-size="7.2" text-anchor="end" style="stroke:none">III-46</text>
<line x1="401.04" y1="89.54" x2="401.04" y2="89.09" stroke="#000" stroke-width="0.95"/>
<line x1="398.54" y1="89.09" x2="403.54" y2="89.09" stroke="#000" stroke-width="0.95"/>
<rect x="399.59" y="89.94" width="2.90" height="9.56" fill="#000" stroke="#000" stroke-width="0.8"/>
<line x1="404.74" y1="90.09" x2="404.74" y2="89.65" stroke="#000" stroke-width="0.95"/>
<line x1="402.24" y1="89.65" x2="407.24" y2="89.65" stroke="#000" stroke-width="0.95"/>
<rect x="403.29" y="90.49" width="2.90" height="9.01" fill="#fff" stroke="#000" stroke-width="0.8"/>
<line x1="398.84" y1="99.50" x2="398.84" y2="102.20" stroke="#000" stroke-width="1.1"/>
<text transform="translate(404.58 103.75) rotate(-90)" font-size="7.2" text-anchor="end" style="stroke:none">III-47</text>
<line x1="408.55" y1="88.98" x2="408.55" y2="86.49" stroke="#000" stroke-width="0.95"/>
<line x1="406.05" y1="86.49" x2="411.05" y2="86.49" stroke="#000" stroke-width="0.95"/>
<rect x="407.10" y="89.38" width="2.90" height="10.12" fill="#000" stroke="#000" stroke-width="0.8"/>
<line x1="412.25" y1="90.09" x2="412.25" y2="89.54" stroke="#000" stroke-width="0.95"/>
<line x1="409.75" y1="89.54" x2="414.75" y2="89.54" stroke="#000" stroke-width="0.95"/>
<rect x="410.80" y="90.49" width="2.90" height="9.01" fill="#fff" stroke="#000" stroke-width="0.8"/>
<line x1="406.35" y1="99.50" x2="406.35" y2="102.20" stroke="#000" stroke-width="1.1"/>
<text transform="translate(412.09 103.75) rotate(-90)" font-size="7.2" text-anchor="end" style="stroke:none">III-48</text>
<line x1="416.05" y1="80.12" x2="416.05" y2="75.14" stroke="#000" stroke-width="0.95"/>
<line x1="413.55" y1="75.14" x2="418.55" y2="75.14" stroke="#000" stroke-width="0.95"/>
<rect x="414.60" y="80.52" width="2.90" height="18.98" fill="#000" stroke="#000" stroke-width="0.8"/>
<line x1="419.75" y1="88.98" x2="419.75" y2="88.43" stroke="#000" stroke-width="0.95"/>
<line x1="417.25" y1="88.43" x2="422.25" y2="88.43" stroke="#000" stroke-width="0.95"/>
<rect x="418.30" y="89.38" width="2.90" height="10.12" fill="#fff" stroke="#000" stroke-width="0.8"/>
<line x1="413.85" y1="99.50" x2="413.85" y2="102.20" stroke="#000" stroke-width="1.1"/>
<text transform="translate(419.59 103.75) rotate(-90)" font-size="7.2" text-anchor="end" style="stroke:none">III-49</text>
<line x1="423.56" y1="87.32" x2="423.56" y2="84.55" stroke="#000" stroke-width="0.95"/>
<line x1="421.06" y1="84.55" x2="426.06" y2="84.55" stroke="#000" stroke-width="0.95"/>
<rect x="422.11" y="87.72" width="2.90" height="11.78" fill="#000" stroke="#000" stroke-width="0.8"/>
<line x1="427.26" y1="88.98" x2="427.26" y2="87.87" stroke="#000" stroke-width="0.95"/>
<line x1="424.76" y1="87.87" x2="429.76" y2="87.87" stroke="#000" stroke-width="0.95"/>
<rect x="425.81" y="89.38" width="2.90" height="10.12" fill="#fff" stroke="#000" stroke-width="0.8"/>
<line x1="421.36" y1="99.50" x2="421.36" y2="102.20" stroke="#000" stroke-width="1.1"/>
<text transform="translate(427.10 103.75) rotate(-90)" font-size="7.2" text-anchor="end" style="stroke:none">III-50</text>
<line x1="431.06" y1="88.15" x2="431.06" y2="86.77" stroke="#000" stroke-width="0.95"/>
<line x1="428.56" y1="86.77" x2="433.56" y2="86.77" stroke="#000" stroke-width="0.95"/>
<rect x="429.61" y="88.55" width="2.90" height="10.95" fill="#000" stroke="#000" stroke-width="0.8"/>
<line x1="434.76" y1="89.54" x2="434.76" y2="88.98" stroke="#000" stroke-width="0.95"/>
<line x1="432.26" y1="88.98" x2="437.26" y2="88.98" stroke="#000" stroke-width="0.95"/>
<rect x="433.31" y="89.94" width="2.90" height="9.56" fill="#fff" stroke="#000" stroke-width="0.8"/>
<line x1="428.86" y1="99.50" x2="428.86" y2="102.20" stroke="#000" stroke-width="1.1"/>
<text transform="translate(434.60 103.75) rotate(-90)" font-size="7.2" text-anchor="end" style="stroke:none">III-51</text>
<line x1="438.57" y1="88.98" x2="438.57" y2="88.43" stroke="#000" stroke-width="0.95"/>
<line x1="436.07" y1="88.43" x2="441.07" y2="88.43" stroke="#000" stroke-width="0.95"/>
<rect x="437.12" y="89.38" width="2.90" height="10.12" fill="#000" stroke="#000" stroke-width="0.8"/>
<line x1="442.27" y1="88.98" x2="442.27" y2="86.77" stroke="#000" stroke-width="0.95"/>
<line x1="439.77" y1="86.77" x2="444.77" y2="86.77" stroke="#000" stroke-width="0.95"/>
<rect x="440.81" y="89.38" width="2.90" height="10.12" fill="#fff" stroke="#000" stroke-width="0.8"/>
<line x1="436.37" y1="99.50" x2="436.37" y2="102.20" stroke="#000" stroke-width="1.1"/>
<text transform="translate(442.11 103.75) rotate(-90)" font-size="7.2" text-anchor="end" style="stroke:none">III-52</text>
<line x1="446.07" y1="88.98" x2="446.07" y2="88.15" stroke="#000" stroke-width="0.95"/>
<line x1="443.57" y1="88.15" x2="448.57" y2="88.15" stroke="#000" stroke-width="0.95"/>
<rect x="444.62" y="89.38" width="2.90" height="10.12" fill="#000" stroke="#000" stroke-width="0.8"/>
<line x1="449.77" y1="90.09" x2="449.77" y2="89.54" stroke="#000" stroke-width="0.95"/>
<line x1="447.27" y1="89.54" x2="452.27" y2="89.54" stroke="#000" stroke-width="0.95"/>
<rect x="448.32" y="90.49" width="2.90" height="9.01" fill="#fff" stroke="#000" stroke-width="0.8"/>
<line x1="443.87" y1="99.50" x2="443.87" y2="102.20" stroke="#000" stroke-width="1.1"/>
<text transform="translate(449.61 103.75) rotate(-90)" font-size="7.2" text-anchor="end" style="stroke:none">III-53</text>
<line x1="453.58" y1="89.81" x2="453.58" y2="89.26" stroke="#000" stroke-width="0.95"/>
<line x1="451.08" y1="89.26" x2="456.08" y2="89.26" stroke="#000" stroke-width="0.95"/>
<rect x="452.12" y="90.21" width="2.90" height="9.29" fill="#000" stroke="#000" stroke-width="0.8"/>
<line x1="457.28" y1="90.37" x2="457.28" y2="89.81" stroke="#000" stroke-width="0.95"/>
<line x1="454.78" y1="89.81" x2="459.78" y2="89.81" stroke="#000" stroke-width="0.95"/>
<rect x="455.82" y="90.77" width="2.90" height="8.73" fill="#fff" stroke="#000" stroke-width="0.8"/>
<line x1="451.38" y1="99.50" x2="451.38" y2="102.20" stroke="#000" stroke-width="1.1"/>
<text transform="translate(457.12 103.75) rotate(-90)" font-size="7.2" text-anchor="end" style="stroke:none">III-54</text>
<line x1="461.08" y1="90.09" x2="461.08" y2="89.54" stroke="#000" stroke-width="0.95"/>
<line x1="458.58" y1="89.54" x2="463.58" y2="89.54" stroke="#000" stroke-width="0.95"/>
<rect x="459.63" y="90.49" width="2.90" height="9.01" fill="#000" stroke="#000" stroke-width="0.8"/>
<line x1="464.78" y1="90.64" x2="464.78" y2="90.09" stroke="#000" stroke-width="0.95"/>
<line x1="462.28" y1="90.09" x2="467.28" y2="90.09" stroke="#000" stroke-width="0.95"/>
<rect x="463.33" y="91.04" width="2.90" height="8.46" fill="#fff" stroke="#000" stroke-width="0.8"/>
<line x1="458.88" y1="99.50" x2="458.88" y2="102.20" stroke="#000" stroke-width="1.1"/>
<text transform="translate(464.62 103.75) rotate(-90)" font-size="7.2" text-anchor="end" style="stroke:none">III-55</text>
<line x1="468.59" y1="90.09" x2="468.59" y2="89.54" stroke="#000" stroke-width="0.95"/>
<line x1="466.09" y1="89.54" x2="471.09" y2="89.54" stroke="#000" stroke-width="0.95"/>
<rect x="467.13" y="90.49" width="2.90" height="9.01" fill="#000" stroke="#000" stroke-width="0.8"/>
<line x1="472.29" y1="90.09" x2="472.29" y2="89.54" stroke="#000" stroke-width="0.95"/>
<line x1="469.79" y1="89.54" x2="474.79" y2="89.54" stroke="#000" stroke-width="0.95"/>
<rect x="470.83" y="90.49" width="2.90" height="9.01" fill="#fff" stroke="#000" stroke-width="0.8"/>
<line x1="466.38" y1="99.50" x2="466.38" y2="102.20" stroke="#000" stroke-width="1.1"/>
<text transform="translate(472.13 103.75) rotate(-90)" font-size="7.2" text-anchor="end" style="stroke:none">III-56</text>
<line x1="476.09" y1="87.60" x2="476.09" y2="85.11" stroke="#000" stroke-width="0.95"/>
<line x1="473.59" y1="85.11" x2="478.59" y2="85.11" stroke="#000" stroke-width="0.95"/>
<rect x="474.64" y="88.00" width="2.90" height="11.50" fill="#000" stroke="#000" stroke-width="0.8"/>
<line x1="479.79" y1="89.54" x2="479.79" y2="88.98" stroke="#000" stroke-width="0.95"/>
<line x1="477.29" y1="88.98" x2="482.29" y2="88.98" stroke="#000" stroke-width="0.95"/>
<rect x="478.34" y="89.94" width="2.90" height="9.56" fill="#fff" stroke="#000" stroke-width="0.8"/>
<line x1="473.89" y1="99.50" x2="473.89" y2="102.20" stroke="#000" stroke-width="1.1"/>
<text transform="translate(479.63 103.75) rotate(-90)" font-size="7.2" text-anchor="end" style="stroke:none">III-57</text>
<line x1="483.60" y1="35.28" x2="483.60" y2="29.75" stroke="#000" stroke-width="0.95"/>
<line x1="481.10" y1="29.75" x2="486.10" y2="29.75" stroke="#000" stroke-width="0.95"/>
<rect x="482.15" y="35.68" width="2.90" height="63.82" fill="#000" stroke="#000" stroke-width="0.8"/>
<line x1="487.30" y1="60.19" x2="487.30" y2="51.61" stroke="#000" stroke-width="0.95"/>
<line x1="484.80" y1="51.61" x2="489.80" y2="51.61" stroke="#000" stroke-width="0.95"/>
<rect x="485.85" y="60.59" width="2.90" height="38.91" fill="#fff" stroke="#000" stroke-width="0.8"/>
<line x1="481.40" y1="99.50" x2="481.40" y2="102.20" stroke="#000" stroke-width="1.1"/>
<text transform="translate(487.14 103.75) rotate(-90)" font-size="7.2" text-anchor="end" style="stroke:none">CRP</text>
<line x1="491.10" y1="39.71" x2="491.10" y2="35.28" stroke="#000" stroke-width="0.95"/>
<line x1="488.60" y1="35.28" x2="493.60" y2="35.28" stroke="#000" stroke-width="0.95"/>
<rect x="489.65" y="40.11" width="2.90" height="59.39" fill="#000" stroke="#000" stroke-width="0.8"/>
<line x1="494.80" y1="89.54" x2="494.80" y2="88.98" stroke="#000" stroke-width="0.95"/>
<line x1="492.30" y1="88.98" x2="497.30" y2="88.98" stroke="#000" stroke-width="0.95"/>
<rect x="493.35" y="89.94" width="2.90" height="9.56" fill="#fff" stroke="#000" stroke-width="0.8"/>
<line x1="488.90" y1="99.50" x2="488.90" y2="102.20" stroke="#000" stroke-width="1.1"/>
<text transform="translate(494.64 101.50) rotate(-90)" font-size="7.2" text-anchor="end" style="stroke:none">GFOGER</text>
<line x1="498.61" y1="37.22" x2="498.61" y2="31.96" stroke="#000" stroke-width="0.95"/>
<line x1="496.11" y1="31.96" x2="501.11" y2="31.96" stroke="#000" stroke-width="0.95"/>
<rect x="497.16" y="37.62" width="2.90" height="61.88" fill="#000" stroke="#000" stroke-width="0.8"/>
<line x1="502.31" y1="89.54" x2="502.31" y2="88.98" stroke="#000" stroke-width="0.95"/>
<line x1="499.81" y1="88.98" x2="504.81" y2="88.98" stroke="#000" stroke-width="0.95"/>
<rect x="500.86" y="89.94" width="2.90" height="9.56" fill="#fff" stroke="#000" stroke-width="0.8"/>
<line x1="496.41" y1="99.50" x2="496.41" y2="102.20" stroke="#000" stroke-width="1.1"/>
<text transform="translate(502.15 103.75) rotate(-90)" font-size="7.2" text-anchor="end" style="stroke:none">PDI</text>
<line x1="506.11" y1="49.40" x2="506.11" y2="40.26" stroke="#000" stroke-width="0.95"/>
<line x1="503.61" y1="40.26" x2="508.61" y2="40.26" stroke="#000" stroke-width="0.95"/>
<rect x="504.66" y="49.80" width="2.90" height="49.70" fill="#000" stroke="#000" stroke-width="0.8"/>
<line x1="509.81" y1="70.16" x2="509.81" y2="64.35" stroke="#000" stroke-width="0.95"/>
<line x1="507.31" y1="64.35" x2="512.31" y2="64.35" stroke="#000" stroke-width="0.95"/>
<rect x="508.36" y="70.56" width="2.90" height="28.94" fill="#fff" stroke="#000" stroke-width="0.8"/>
<line x1="503.91" y1="99.50" x2="503.91" y2="102.20" stroke="#000" stroke-width="1.1"/>
<text transform="translate(509.65 103.75) rotate(-90)" font-size="7.2" text-anchor="end" style="stroke:none">Ethicon</text>
<line x1="513.62" y1="39.16" x2="513.62" y2="34.18" stroke="#000" stroke-width="0.95"/>
<line x1="511.12" y1="34.18" x2="516.12" y2="34.18" stroke="#000" stroke-width="0.95"/>
<rect x="512.17" y="39.56" width="2.90" height="59.94" fill="#000" stroke="#000" stroke-width="0.8"/>
<line x1="517.32" y1="73.48" x2="517.32" y2="69.05" stroke="#000" stroke-width="0.95"/>
<line x1="514.82" y1="69.05" x2="519.82" y2="69.05" stroke="#000" stroke-width="0.95"/>
<rect x="515.87" y="73.88" width="2.90" height="25.62" fill="#fff" stroke="#000" stroke-width="0.8"/>
<line x1="511.42" y1="99.50" x2="511.42" y2="102.20" stroke="#000" stroke-width="1.1"/>
<text transform="translate(517.16 103.75) rotate(-90)" font-size="7.2" text-anchor="end" style="stroke:none">Horm</text>
<line x1="518.92" y1="99.50" x2="518.92" y2="102.20" stroke="#000" stroke-width="1.1"/>
<line x1="38.10" y1="99.50" x2="520.00" y2="99.50" stroke="#000" stroke-width="0.95"/>
<line x1="38.50" y1="21.60" x2="38.50" y2="99.90" stroke="#000" stroke-width="0.95"/>
<line x1="35.90" y1="99.50" x2="38.50" y2="99.50" stroke="#000" stroke-width="0.95"/>
<text x="33.50" y="101.70" font-size="7.2" text-anchor="end" font-weight="normal" fill="#000">0.0</text>
<line x1="35.90" y1="88.43" x2="38.50" y2="88.43" stroke="#000" stroke-width="0.95"/>
<text x="33.50" y="90.63" font-size="7.2" text-anchor="end" font-weight="normal" fill="#000">0.2</text>
<line x1="35.90" y1="77.36" x2="38.50" y2="77.36" stroke="#000" stroke-width="0.95"/>
<text x="33.50" y="79.56" font-size="7.2" text-anchor="end" font-weight="normal" fill="#000">0.4</text>
<line x1="35.90" y1="66.28" x2="38.50" y2="66.28" stroke="#000" stroke-width="0.95"/>
<text x="33.50" y="68.48" font-size="7.2" text-anchor="end" font-weight="normal" fill="#000">0.6</text>
<line x1="35.90" y1="55.21" x2="38.50" y2="55.21" stroke="#000" stroke-width="0.95"/>
<text x="33.50" y="57.41" font-size="7.2" text-anchor="end" font-weight="normal" fill="#000">0.8</text>
<line x1="35.90" y1="44.14" x2="38.50" y2="44.14" stroke="#000" stroke-width="0.95"/>
<text x="33.50" y="46.34" font-size="7.2" text-anchor="end" font-weight="normal" fill="#000">1.0</text>
<line x1="35.90" y1="33.07" x2="38.50" y2="33.07" stroke="#000" stroke-width="0.95"/>
<text x="33.50" y="35.27" font-size="7.2" text-anchor="end" font-weight="normal" fill="#000">1.2</text>
<line x1="35.90" y1="22.00" x2="38.50" y2="22.00" stroke="#000" stroke-width="0.95"/>
<text x="33.50" y="24.20" font-size="7.2" text-anchor="end" font-weight="normal" fill="#000">1.4</text>
<text transform="translate(7.5 60.10) rotate(-90)" font-size="9.2" font-style="italic" style="stroke-width:0.3px" text-anchor="middle">ABS<tspan font-size="5.7" dy="1.9">405</tspan></text>
<text transform="translate(16.6 59.00) rotate(-90)" font-size="7.85" text-anchor="middle">(mean ± s.e.; n=6)</text>
<rect x="48.60" y="14.60" width="5.80" height="5.80" fill="#000" stroke="#000" stroke-width="0.9"/>
<text x="61.10" y="21.03" font-size="8.7" text-anchor="start" font-weight="normal" fill="#000" word-spacing="0.6">Control</text>
<rect x="48.60" y="25.80" width="5.80" height="5.80" fill="#fff" stroke="#000" stroke-width="0.9"/>
<text x="61.10" y="32.23" font-size="8.7" text-anchor="start" font-weight="normal" fill="#000" word-spacing="0.6">EDTA (2 mM)</text>
<text x="0.90" y="141.20" font-size="11.5" text-anchor="start" font-weight="bold" fill="#000">B</text>
<line x1="44.85" y1="225.75" x2="44.85" y2="224.66" stroke="#000" stroke-width="0.95"/>
<line x1="42.15" y1="224.66" x2="47.55" y2="224.66" stroke="#000" stroke-width="0.95"/>
<rect x="40.80" y="226.15" width="8.10" height="9.85" fill="#000" stroke="#000" stroke-width="0.8"/>
<line x1="38.20" y1="236.00" x2="38.20" y2="238.80" stroke="#000" stroke-width="1.0"/>
<text transform="translate(55.39 240.40) rotate(-90)" font-size="7.2" text-anchor="end" style="stroke:none">GPP</text>
<line x1="74.87" y1="195.67" x2="74.87" y2="185.28" stroke="#000" stroke-width="0.95"/>
<line x1="72.17" y1="185.28" x2="77.57" y2="185.28" stroke="#000" stroke-width="0.95"/>
<rect x="70.82" y="196.07" width="8.10" height="39.93" fill="#000" stroke="#000" stroke-width="0.8"/>
<line x1="83.77" y1="218.64" x2="83.77" y2="214.27" stroke="#000" stroke-width="0.95"/>
<line x1="81.07" y1="214.27" x2="86.47" y2="214.27" stroke="#000" stroke-width="0.95"/>
<rect x="79.72" y="219.04" width="8.10" height="16.96" fill="#fff" stroke="#000" stroke-width="0.8"/>
<text x="82.87" y="210.57" font-size="5.8" text-anchor="middle" fill="#333"><tspan font-size="6.6" dy="0.8">*</tspan><tspan dy="-0.8">†</tspan></text>
<line x1="92.67" y1="197.31" x2="92.67" y2="190.75" stroke="#000" stroke-width="0.95"/>
<line x1="89.97" y1="190.75" x2="95.37" y2="190.75" stroke="#000" stroke-width="0.95"/>
<rect x="88.62" y="197.71" width="8.10" height="38.29" fill="#c8c8c8" stroke="#000" stroke-width="0.8"/>
<line x1="68.22" y1="236.00" x2="68.22" y2="238.80" stroke="#000" stroke-width="1.0"/>
<text transform="translate(85.41 240.40) rotate(-90)" font-size="7.2" text-anchor="end" style="stroke:none">III-01</text>
<line x1="104.89" y1="176.52" x2="104.89" y2="172.15" stroke="#000" stroke-width="0.95"/>
<line x1="102.19" y1="172.15" x2="107.59" y2="172.15" stroke="#000" stroke-width="0.95"/>
<rect x="100.84" y="176.92" width="8.10" height="59.08" fill="#000" stroke="#000" stroke-width="0.8"/>
<line x1="113.79" y1="183.09" x2="113.79" y2="179.81" stroke="#000" stroke-width="0.95"/>
<line x1="111.09" y1="179.81" x2="116.49" y2="179.81" stroke="#000" stroke-width="0.95"/>
<rect x="109.74" y="183.49" width="8.10" height="52.51" fill="#fff" stroke="#000" stroke-width="0.8"/>
<text x="113.79" y="175.41" font-size="5.8" text-anchor="middle" fill="#333">†</text>
<line x1="122.69" y1="182.54" x2="122.69" y2="178.71" stroke="#000" stroke-width="0.95"/>
<line x1="119.99" y1="178.71" x2="125.39" y2="178.71" stroke="#000" stroke-width="0.95"/>
<rect x="118.64" y="182.94" width="8.10" height="53.06" fill="#c8c8c8" stroke="#000" stroke-width="0.8"/>
<text x="122.69" y="174.31" font-size="5.8" text-anchor="middle" fill="#333">†</text>
<line x1="98.24" y1="236.00" x2="98.24" y2="238.80" stroke="#000" stroke-width="1.0"/>
<text transform="translate(115.43 240.40) rotate(-90)" font-size="7.2" text-anchor="end" style="stroke:none">III-04</text>
<line x1="134.91" y1="202.23" x2="134.91" y2="197.86" stroke="#000" stroke-width="0.95"/>
<line x1="132.21" y1="197.86" x2="137.61" y2="197.86" stroke="#000" stroke-width="0.95"/>
<rect x="130.86" y="202.63" width="8.10" height="33.37" fill="#000" stroke="#000" stroke-width="0.8"/>
<line x1="143.81" y1="206.61" x2="143.81" y2="201.69" stroke="#000" stroke-width="0.95"/>
<line x1="141.11" y1="201.69" x2="146.51" y2="201.69" stroke="#000" stroke-width="0.95"/>
<rect x="139.76" y="207.01" width="8.10" height="28.99" fill="#fff" stroke="#000" stroke-width="0.8"/>
<line x1="152.71" y1="207.16" x2="152.71" y2="204.97" stroke="#000" stroke-width="0.95"/>
<line x1="150.01" y1="204.97" x2="155.41" y2="204.97" stroke="#000" stroke-width="0.95"/>
<rect x="148.66" y="207.56" width="8.10" height="28.44" fill="#c8c8c8" stroke="#000" stroke-width="0.8"/>
<line x1="128.26" y1="236.00" x2="128.26" y2="238.80" stroke="#000" stroke-width="1.0"/>
<text transform="translate(145.45 240.40) rotate(-90)" font-size="7.2" text-anchor="end" style="stroke:none">III-07</text>
<line x1="164.93" y1="207.70" x2="164.93" y2="200.05" stroke="#000" stroke-width="0.95"/>
<line x1="162.23" y1="200.05" x2="167.63" y2="200.05" stroke="#000" stroke-width="0.95"/>
<rect x="160.88" y="208.10" width="8.10" height="27.90" fill="#000" stroke="#000" stroke-width="0.8"/>
<text x="164.93" y="199.05" font-size="8" text-anchor="middle" fill="#444">*</text>
<line x1="173.83" y1="221.93" x2="173.83" y2="217.55" stroke="#000" stroke-width="0.95"/>
<line x1="171.13" y1="217.55" x2="176.53" y2="217.55" stroke="#000" stroke-width="0.95"/>
<rect x="169.78" y="222.33" width="8.10" height="13.67" fill="#fff" stroke="#000" stroke-width="0.8"/>
<text x="173.83" y="216.55" font-size="8" text-anchor="middle" fill="#444">*</text>
<line x1="182.73" y1="217.00" x2="182.73" y2="212.08" stroke="#000" stroke-width="0.95"/>
<line x1="180.03" y1="212.08" x2="185.43" y2="212.08" stroke="#000" stroke-width="0.95"/>
<rect x="178.68" y="217.40" width="8.10" height="18.60" fill="#c8c8c8" stroke="#000" stroke-width="0.8"/>
<line x1="158.28" y1="236.00" x2="158.28" y2="238.80" stroke="#000" stroke-width="1.0"/>
<text transform="translate(175.47 240.40) rotate(-90)" font-size="7.2" text-anchor="end" style="stroke:none">III-22</text>
<line x1="194.95" y1="213.17" x2="194.95" y2="206.06" stroke="#000" stroke-width="0.95"/>
<line x1="192.25" y1="206.06" x2="197.65" y2="206.06" stroke="#000" stroke-width="0.95"/>
<rect x="190.90" y="213.57" width="8.10" height="22.43" fill="#000" stroke="#000" stroke-width="0.8"/>
<line x1="203.85" y1="217.00" x2="203.85" y2="212.08" stroke="#000" stroke-width="0.95"/>
<line x1="201.15" y1="212.08" x2="206.55" y2="212.08" stroke="#000" stroke-width="0.95"/>
<rect x="199.80" y="217.40" width="8.10" height="18.60" fill="#fff" stroke="#000" stroke-width="0.8"/>
<line x1="212.75" y1="215.36" x2="212.75" y2="210.44" stroke="#000" stroke-width="0.95"/>
<line x1="210.05" y1="210.44" x2="215.45" y2="210.44" stroke="#000" stroke-width="0.95"/>
<rect x="208.70" y="215.76" width="8.10" height="20.24" fill="#c8c8c8" stroke="#000" stroke-width="0.8"/>
<text x="212.75" y="209.44" font-size="8" text-anchor="middle" fill="#444">*</text>
<line x1="188.30" y1="236.00" x2="188.30" y2="238.80" stroke="#000" stroke-width="1.0"/>
<text transform="translate(205.49 240.40) rotate(-90)" font-size="7.2" text-anchor="end" style="stroke:none">III-23</text>
<line x1="224.97" y1="174.88" x2="224.97" y2="169.41" stroke="#000" stroke-width="0.95"/>
<line x1="222.27" y1="169.41" x2="227.67" y2="169.41" stroke="#000" stroke-width="0.95"/>
<rect x="220.92" y="175.28" width="8.10" height="60.72" fill="#000" stroke="#000" stroke-width="0.8"/>
<line x1="233.87" y1="225.75" x2="233.87" y2="224.11" stroke="#000" stroke-width="0.95"/>
<line x1="231.17" y1="224.11" x2="236.57" y2="224.11" stroke="#000" stroke-width="0.95"/>
<rect x="229.82" y="226.15" width="8.10" height="9.85" fill="#fff" stroke="#000" stroke-width="0.8"/>
<text x="232.97" y="220.41" font-size="5.8" text-anchor="middle" fill="#333"><tspan font-size="6.6" dy="0.8">*</tspan><tspan dy="-0.8">†</tspan></text>
<line x1="242.77" y1="180.90" x2="242.77" y2="175.43" stroke="#000" stroke-width="0.95"/>
<line x1="240.07" y1="175.43" x2="245.47" y2="175.43" stroke="#000" stroke-width="0.95"/>
<rect x="238.72" y="181.30" width="8.10" height="54.70" fill="#c8c8c8" stroke="#000" stroke-width="0.8"/>
<line x1="218.32" y1="236.00" x2="218.32" y2="238.80" stroke="#000" stroke-width="1.0"/>
<text transform="translate(235.51 240.40) rotate(-90)" font-size="7.2" text-anchor="end" style="stroke:none">III-30</text>
<line x1="254.99" y1="187.19" x2="254.99" y2="184.18" stroke="#000" stroke-width="0.95"/>
<line x1="252.29" y1="184.18" x2="257.69" y2="184.18" stroke="#000" stroke-width="0.95"/>
<rect x="250.94" y="187.59" width="8.10" height="48.41" fill="#000" stroke="#000" stroke-width="0.8"/>
<line x1="263.89" y1="191.84" x2="263.89" y2="187.46" stroke="#000" stroke-width="0.95"/>
<line x1="261.19" y1="187.46" x2="266.59" y2="187.46" stroke="#000" stroke-width="0.95"/>
<rect x="259.84" y="192.24" width="8.10" height="43.76" fill="#fff" stroke="#000" stroke-width="0.8"/>
<line x1="272.79" y1="194.30" x2="272.79" y2="190.75" stroke="#000" stroke-width="0.95"/>
<line x1="270.09" y1="190.75" x2="275.49" y2="190.75" stroke="#000" stroke-width="0.95"/>
<rect x="268.74" y="194.70" width="8.10" height="41.30" fill="#c8c8c8" stroke="#000" stroke-width="0.8"/>
<line x1="248.34" y1="236.00" x2="248.34" y2="238.80" stroke="#000" stroke-width="1.0"/>
<text transform="translate(265.53 240.40) rotate(-90)" font-size="7.2" text-anchor="end" style="stroke:none">III-31</text>
<line x1="285.01" y1="207.70" x2="285.01" y2="202.23" stroke="#000" stroke-width="0.95"/>
<line x1="282.31" y1="202.23" x2="287.71" y2="202.23" stroke="#000" stroke-width="0.95"/>
<rect x="280.96" y="208.10" width="8.10" height="27.90" fill="#000" stroke="#000" stroke-width="0.8"/>
<line x1="293.91" y1="213.72" x2="293.91" y2="207.70" stroke="#000" stroke-width="0.95"/>
<line x1="291.21" y1="207.70" x2="296.61" y2="207.70" stroke="#000" stroke-width="0.95"/>
<rect x="289.86" y="214.12" width="8.10" height="21.88" fill="#fff" stroke="#000" stroke-width="0.8"/>
<line x1="302.81" y1="216.18" x2="302.81" y2="214.81" stroke="#000" stroke-width="0.95"/>
<line x1="300.11" y1="214.81" x2="305.51" y2="214.81" stroke="#000" stroke-width="0.95"/>
<rect x="298.76" y="216.58" width="8.10" height="19.42" fill="#c8c8c8" stroke="#000" stroke-width="0.8"/>
<line x1="278.36" y1="236.00" x2="278.36" y2="238.80" stroke="#000" stroke-width="1.0"/>
<text transform="translate(295.55 240.40) rotate(-90)" font-size="7.2" text-anchor="end" style="stroke:none">III-32</text>
<line x1="315.03" y1="188.72" x2="315.03" y2="183.63" stroke="#000" stroke-width="0.95"/>
<line x1="312.33" y1="183.63" x2="317.73" y2="183.63" stroke="#000" stroke-width="0.95"/>
<rect x="310.98" y="189.12" width="8.10" height="46.88" fill="#000" stroke="#000" stroke-width="0.8"/>
<line x1="323.93" y1="221.93" x2="323.93" y2="217.55" stroke="#000" stroke-width="0.95"/>
<line x1="321.23" y1="217.55" x2="326.63" y2="217.55" stroke="#000" stroke-width="0.95"/>
<rect x="319.88" y="222.33" width="8.10" height="13.67" fill="#fff" stroke="#000" stroke-width="0.8"/>
<text x="323.03" y="213.85" font-size="5.8" text-anchor="middle" fill="#333"><tspan font-size="6.6" dy="0.8">*</tspan><tspan dy="-0.8">†</tspan></text>
<line x1="332.83" y1="206.06" x2="332.83" y2="197.31" stroke="#000" stroke-width="0.95"/>
<line x1="330.13" y1="197.31" x2="335.53" y2="197.31" stroke="#000" stroke-width="0.95"/>
<rect x="328.78" y="206.46" width="8.10" height="29.54" fill="#c8c8c8" stroke="#000" stroke-width="0.8"/>
<text x="332.83" y="192.91" font-size="5.8" text-anchor="middle" fill="#333">†</text>
<line x1="308.38" y1="236.00" x2="308.38" y2="238.80" stroke="#000" stroke-width="1.0"/>
<text transform="translate(325.57 240.40) rotate(-90)" font-size="7.2" text-anchor="end" style="stroke:none">III-40</text>
<line x1="345.05" y1="223.57" x2="345.05" y2="221.38" stroke="#000" stroke-width="0.95"/>
<line x1="342.35" y1="221.38" x2="347.75" y2="221.38" stroke="#000" stroke-width="0.95"/>
<rect x="341.00" y="223.97" width="8.10" height="12.03" fill="#000" stroke="#000" stroke-width="0.8"/>
<text x="345.05" y="220.38" font-size="8" text-anchor="middle" fill="#444">*</text>
<line x1="353.95" y1="222.47" x2="353.95" y2="219.19" stroke="#000" stroke-width="0.95"/>
<line x1="351.25" y1="219.19" x2="356.65" y2="219.19" stroke="#000" stroke-width="0.95"/>
<rect x="349.90" y="222.87" width="8.10" height="13.13" fill="#fff" stroke="#000" stroke-width="0.8"/>
<text x="353.95" y="218.19" font-size="8" text-anchor="middle" fill="#444">*</text>
<line x1="362.85" y1="223.02" x2="362.85" y2="220.28" stroke="#000" stroke-width="0.95"/>
<line x1="360.15" y1="220.28" x2="365.55" y2="220.28" stroke="#000" stroke-width="0.95"/>
<rect x="358.80" y="223.42" width="8.10" height="12.58" fill="#c8c8c8" stroke="#000" stroke-width="0.8"/>
<text x="362.85" y="219.28" font-size="8" text-anchor="middle" fill="#444">*</text>
<line x1="338.40" y1="236.00" x2="338.40" y2="238.80" stroke="#000" stroke-width="1.0"/>
<text transform="translate(355.59 240.40) rotate(-90)" font-size="7.2" text-anchor="end" style="stroke:none">III-57</text>
<line x1="375.07" y1="171.60" x2="375.07" y2="166.13" stroke="#000" stroke-width="0.95"/>
<line x1="372.37" y1="166.13" x2="377.77" y2="166.13" stroke="#000" stroke-width="0.95"/>
<rect x="371.02" y="172.00" width="8.10" height="64.00" fill="#000" stroke="#000" stroke-width="0.8"/>
<line x1="383.97" y1="226.30" x2="383.97" y2="225.21" stroke="#000" stroke-width="0.95"/>
<line x1="381.27" y1="225.21" x2="386.67" y2="225.21" stroke="#000" stroke-width="0.95"/>
<rect x="379.92" y="226.70" width="8.10" height="9.30" fill="#fff" stroke="#000" stroke-width="0.8"/>
<text x="383.07" y="221.51" font-size="5.8" text-anchor="middle" fill="#333"><tspan font-size="6.6" dy="0.8">*</tspan><tspan dy="-0.8">†</tspan></text>
<line x1="392.87" y1="177.07" x2="392.87" y2="173.79" stroke="#000" stroke-width="0.95"/>
<line x1="390.17" y1="173.79" x2="395.57" y2="173.79" stroke="#000" stroke-width="0.95"/>
<rect x="388.82" y="177.47" width="8.10" height="58.53" fill="#c8c8c8" stroke="#000" stroke-width="0.8"/>
<line x1="368.42" y1="236.00" x2="368.42" y2="238.80" stroke="#000" stroke-width="1.0"/>
<text transform="translate(385.61 240.40) rotate(-90)" font-size="7.2" text-anchor="end" style="stroke:none">CRP</text>
<line x1="405.09" y1="175.98" x2="405.09" y2="171.05" stroke="#000" stroke-width="0.95"/>
<line x1="402.39" y1="171.05" x2="407.79" y2="171.05" stroke="#000" stroke-width="0.95"/>
<rect x="401.04" y="176.38" width="8.10" height="59.62" fill="#000" stroke="#000" stroke-width="0.8"/>
<line x1="413.99" y1="181.99" x2="413.99" y2="177.62" stroke="#000" stroke-width="0.95"/>
<line x1="411.29" y1="177.62" x2="416.69" y2="177.62" stroke="#000" stroke-width="0.95"/>
<rect x="409.94" y="182.39" width="8.10" height="53.61" fill="#fff" stroke="#000" stroke-width="0.8"/>
<line x1="422.89" y1="181.99" x2="422.89" y2="178.71" stroke="#000" stroke-width="0.95"/>
<line x1="420.19" y1="178.71" x2="425.59" y2="178.71" stroke="#000" stroke-width="0.95"/>
<rect x="418.84" y="182.39" width="8.10" height="53.61" fill="#c8c8c8" stroke="#000" stroke-width="0.8"/>
<line x1="398.44" y1="236.00" x2="398.44" y2="238.80" stroke="#000" stroke-width="1.0"/>
<text transform="translate(415.63 240.40) rotate(-90)" font-size="7.2" text-anchor="end" style="stroke:none">GFOGER</text>
<line x1="435.11" y1="173.41" x2="435.11" y2="167.77" stroke="#000" stroke-width="0.95"/>
<line x1="432.41" y1="167.77" x2="437.81" y2="167.77" stroke="#000" stroke-width="0.95"/>
<rect x="431.06" y="173.81" width="8.10" height="62.19" fill="#000" stroke="#000" stroke-width="0.8"/>
<line x1="444.01" y1="179.26" x2="444.01" y2="174.88" stroke="#000" stroke-width="0.95"/>
<line x1="441.31" y1="174.88" x2="446.71" y2="174.88" stroke="#000" stroke-width="0.95"/>
<rect x="439.96" y="179.66" width="8.10" height="56.34" fill="#fff" stroke="#000" stroke-width="0.8"/>
<line x1="452.91" y1="179.81" x2="452.91" y2="174.88" stroke="#000" stroke-width="0.95"/>
<line x1="450.21" y1="174.88" x2="455.61" y2="174.88" stroke="#000" stroke-width="0.95"/>
<rect x="448.86" y="180.21" width="8.10" height="55.79" fill="#c8c8c8" stroke="#000" stroke-width="0.8"/>
<line x1="428.46" y1="236.00" x2="428.46" y2="238.80" stroke="#000" stroke-width="1.0"/>
<text transform="translate(445.65 240.40) rotate(-90)" font-size="7.2" text-anchor="end" style="stroke:none">PDI</text>
<line x1="465.13" y1="185.60" x2="465.13" y2="175.59" stroke="#000" stroke-width="0.95"/>
<line x1="462.43" y1="175.59" x2="467.83" y2="175.59" stroke="#000" stroke-width="0.95"/>
<rect x="461.08" y="186.00" width="8.10" height="50.00" fill="#000" stroke="#000" stroke-width="0.8"/>
<line x1="474.03" y1="184.18" x2="474.03" y2="180.35" stroke="#000" stroke-width="0.95"/>
<line x1="471.33" y1="180.35" x2="476.73" y2="180.35" stroke="#000" stroke-width="0.95"/>
<rect x="469.98" y="184.58" width="8.10" height="51.42" fill="#fff" stroke="#000" stroke-width="0.8"/>
<line x1="482.93" y1="182.54" x2="482.93" y2="177.07" stroke="#000" stroke-width="0.95"/>
<line x1="480.23" y1="177.07" x2="485.63" y2="177.07" stroke="#000" stroke-width="0.95"/>
<rect x="478.88" y="182.94" width="8.10" height="53.06" fill="#c8c8c8" stroke="#000" stroke-width="0.8"/>
<line x1="458.48" y1="236.00" x2="458.48" y2="238.80" stroke="#000" stroke-width="1.0"/>
<text transform="translate(475.67 240.40) rotate(-90)" font-size="7.2" text-anchor="end" style="stroke:none">Ethicon</text>
<line x1="495.15" y1="175.59" x2="495.15" y2="170.51" stroke="#000" stroke-width="0.95"/>
<line x1="492.45" y1="170.51" x2="497.85" y2="170.51" stroke="#000" stroke-width="0.95"/>
<rect x="491.10" y="175.99" width="8.10" height="60.01" fill="#000" stroke="#000" stroke-width="0.8"/>
<line x1="504.05" y1="181.45" x2="504.05" y2="177.07" stroke="#000" stroke-width="0.95"/>
<line x1="501.35" y1="177.07" x2="506.75" y2="177.07" stroke="#000" stroke-width="0.95"/>
<rect x="500.00" y="181.85" width="8.10" height="54.15" fill="#fff" stroke="#000" stroke-width="0.8"/>
<line x1="512.95" y1="180.90" x2="512.95" y2="176.25" stroke="#000" stroke-width="0.95"/>
<line x1="510.25" y1="176.25" x2="515.65" y2="176.25" stroke="#000" stroke-width="0.95"/>
<rect x="508.90" y="181.30" width="8.10" height="54.70" fill="#c8c8c8" stroke="#000" stroke-width="0.8"/>
<line x1="488.50" y1="236.00" x2="488.50" y2="238.80" stroke="#000" stroke-width="1.0"/>
<text transform="translate(505.69 240.40) rotate(-90)" font-size="7.2" text-anchor="end" style="stroke:none">Horm</text>
<line x1="518.52" y1="236.00" x2="518.52" y2="238.80" stroke="#000" stroke-width="1.0"/>
<line x1="38.10" y1="236.00" x2="518.92" y2="236.00" stroke="#000" stroke-width="0.95"/>
<line x1="38.50" y1="158.04" x2="38.50" y2="236.40" stroke="#000" stroke-width="0.95"/>
<line x1="35.90" y1="236.00" x2="38.50" y2="236.00" stroke="#000" stroke-width="0.95"/>
<text x="33.50" y="238.20" font-size="7.2" text-anchor="end" font-weight="normal" fill="#000">0.0</text>
<line x1="35.90" y1="224.92" x2="38.50" y2="224.92" stroke="#000" stroke-width="0.95"/>
<text x="33.50" y="227.12" font-size="7.2" text-anchor="end" font-weight="normal" fill="#000">0.2</text>
<line x1="35.90" y1="213.84" x2="38.50" y2="213.84" stroke="#000" stroke-width="0.95"/>
<text x="33.50" y="216.04" font-size="7.2" text-anchor="end" font-weight="normal" fill="#000">0.4</text>
<line x1="35.90" y1="202.76" x2="38.50" y2="202.76" stroke="#000" stroke-width="0.95"/>
<text x="33.50" y="204.96" font-size="7.2" text-anchor="end" font-weight="normal" fill="#000">0.6</text>
<line x1="35.90" y1="191.68" x2="38.50" y2="191.68" stroke="#000" stroke-width="0.95"/>
<text x="33.50" y="193.88" font-size="7.2" text-anchor="end" font-weight="normal" fill="#000">0.8</text>
<line x1="35.90" y1="180.60" x2="38.50" y2="180.60" stroke="#000" stroke-width="0.95"/>
<text x="33.50" y="182.80" font-size="7.2" text-anchor="end" font-weight="normal" fill="#000">1.0</text>
<line x1="35.90" y1="169.52" x2="38.50" y2="169.52" stroke="#000" stroke-width="0.95"/>
<text x="33.50" y="171.72" font-size="7.2" text-anchor="end" font-weight="normal" fill="#000">1.2</text>
<line x1="35.90" y1="158.44" x2="38.50" y2="158.44" stroke="#000" stroke-width="0.95"/>
<text x="33.50" y="160.64" font-size="7.2" text-anchor="end" font-weight="normal" fill="#000">1.4</text>
<text transform="translate(7.5 194.70) rotate(-90)" font-size="9.2" font-style="italic" style="stroke-width:0.3px" text-anchor="middle">ABS<tspan font-size="5.7" dy="1.9">405</tspan></text>
<text transform="translate(16.6 193.00) rotate(-90)" font-size="7.85" text-anchor="middle">(mean ± s.e.; n=6)</text>
<rect x="47.20" y="144.90" width="6.00" height="6.00" fill="#000" stroke="#000" stroke-width="0.9"/>
<text x="61.10" y="151.40" font-size="8.6" text-anchor="start" font-weight="normal" fill="#000">Control</text>
<rect x="47.20" y="155.90" width="6.00" height="6.00" fill="#fff" stroke="#000" stroke-width="0.9"/>
<text x="61.10" y="162.40" font-size="8.6" text-anchor="start" font-weight="normal" fill="#000">10B12</text>
<rect x="47.20" y="166.80" width="6.00" height="6.00" fill="#c8c8c8" stroke="#000" stroke-width="0.9"/>
<text x="61.10" y="173.30" font-size="8.6" text-anchor="start" font-weight="normal" fill="#000">2D4</text>
<text x="0.90" y="292.60" font-size="11.5" text-anchor="start" font-weight="bold" fill="#000">C</text>
<line x1="46.90" y1="374.63" x2="46.90" y2="374.37" stroke="#000" stroke-width="0.95"/>
<line x1="43.70" y1="374.37" x2="50.10" y2="374.37" stroke="#000" stroke-width="0.95"/>
<rect x="41.30" y="375.03" width="11.20" height="7.27" fill="#000" stroke="#000" stroke-width="0.8"/>
<line x1="58.90" y1="375.14" x2="58.90" y2="374.63" stroke="#000" stroke-width="0.95"/>
<line x1="55.70" y1="374.63" x2="62.10" y2="374.63" stroke="#000" stroke-width="0.95"/>
<rect x="53.30" y="375.54" width="11.20" height="6.76" fill="#c4c4c4" stroke="#000" stroke-width="0.8"/>
<line x1="70.90" y1="374.63" x2="70.90" y2="374.37" stroke="#000" stroke-width="0.95"/>
<line x1="67.70" y1="374.37" x2="74.10" y2="374.37" stroke="#000" stroke-width="0.95"/>
<rect x="65.30" y="375.03" width="11.20" height="7.27" fill="#fff" stroke="#000" stroke-width="0.8"/>
<line x1="82.90" y1="374.63" x2="82.90" y2="374.37" stroke="#000" stroke-width="0.95"/>
<line x1="79.70" y1="374.37" x2="86.10" y2="374.37" stroke="#000" stroke-width="0.95"/>
<rect x="77.30" y="375.03" width="11.20" height="7.27" fill="#848484" stroke="#000" stroke-width="0.8"/>
<line x1="38.50" y1="382.30" x2="38.50" y2="385.10" stroke="#000" stroke-width="1.0"/>
<text transform="translate(66.59 386.90) rotate(-90)" font-size="7.2" text-anchor="end" style="stroke:none">BSA</text>
<line x1="100.30" y1="371.93" x2="100.30" y2="370.37" stroke="#000" stroke-width="0.95"/>
<line x1="97.10" y1="370.37" x2="103.50" y2="370.37" stroke="#000" stroke-width="0.95"/>
<rect x="94.70" y="372.33" width="11.20" height="9.97" fill="#000" stroke="#000" stroke-width="0.8"/>
<line x1="112.30" y1="374.26" x2="112.30" y2="373.74" stroke="#000" stroke-width="0.95"/>
<line x1="109.10" y1="373.74" x2="115.50" y2="373.74" stroke="#000" stroke-width="0.95"/>
<rect x="106.70" y="374.66" width="11.20" height="7.64" fill="#c4c4c4" stroke="#000" stroke-width="0.8"/>
<line x1="124.30" y1="371.15" x2="124.30" y2="369.86" stroke="#000" stroke-width="0.95"/>
<line x1="121.10" y1="369.86" x2="127.50" y2="369.86" stroke="#000" stroke-width="0.95"/>
<rect x="118.70" y="371.55" width="11.20" height="10.75" fill="#fff" stroke="#000" stroke-width="0.8"/>
<line x1="136.30" y1="370.37" x2="136.30" y2="369.08" stroke="#000" stroke-width="0.95"/>
<line x1="133.10" y1="369.08" x2="139.50" y2="369.08" stroke="#000" stroke-width="0.95"/>
<rect x="130.70" y="370.77" width="11.20" height="11.53" fill="#848484" stroke="#000" stroke-width="0.8"/>
<line x1="91.90" y1="382.30" x2="91.90" y2="385.10" stroke="#000" stroke-width="1.0"/>
<text transform="translate(119.99 386.90) rotate(-90)" font-size="7.2" text-anchor="end" style="stroke:none">GPP</text>
<line x1="153.70" y1="331.91" x2="153.70" y2="327.23" stroke="#000" stroke-width="0.95"/>
<line x1="150.50" y1="327.23" x2="156.90" y2="327.23" stroke="#000" stroke-width="0.95"/>
<rect x="148.10" y="332.31" width="11.20" height="49.99" fill="#000" stroke="#000" stroke-width="0.8"/>
<line x1="165.70" y1="350.63" x2="165.70" y2="347.51" stroke="#000" stroke-width="0.95"/>
<line x1="162.50" y1="347.51" x2="168.90" y2="347.51" stroke="#000" stroke-width="0.95"/>
<rect x="160.10" y="351.03" width="11.20" height="31.27" fill="#c4c4c4" stroke="#000" stroke-width="0.8"/>
<text x="165.70" y="343.11" font-size="5.8" text-anchor="middle" fill="#333">†</text>
<line x1="177.70" y1="353.75" x2="177.70" y2="351.67" stroke="#000" stroke-width="0.95"/>
<line x1="174.50" y1="351.67" x2="180.90" y2="351.67" stroke="#000" stroke-width="0.95"/>
<rect x="172.10" y="354.15" width="11.20" height="28.15" fill="#fff" stroke="#000" stroke-width="0.8"/>
<text x="177.70" y="347.27" font-size="5.8" text-anchor="middle" fill="#333">†</text>
<line x1="189.70" y1="336.07" x2="189.70" y2="331.91" stroke="#000" stroke-width="0.95"/>
<line x1="186.50" y1="331.91" x2="192.90" y2="331.91" stroke="#000" stroke-width="0.95"/>
<rect x="184.10" y="336.47" width="11.20" height="45.83" fill="#848484" stroke="#000" stroke-width="0.8"/>
<line x1="145.30" y1="382.30" x2="145.30" y2="385.10" stroke="#000" stroke-width="1.0"/>
<text transform="translate(173.39 386.90) rotate(-90)" font-size="7.2" text-anchor="end" style="stroke:none">III-01</text>
<line x1="207.10" y1="317.35" x2="207.10" y2="311.63" stroke="#000" stroke-width="0.95"/>
<line x1="203.90" y1="311.63" x2="210.30" y2="311.63" stroke="#000" stroke-width="0.95"/>
<rect x="201.50" y="317.75" width="11.20" height="64.55" fill="#000" stroke="#000" stroke-width="0.8"/>
<line x1="219.10" y1="333.47" x2="219.10" y2="330.35" stroke="#000" stroke-width="0.95"/>
<line x1="215.90" y1="330.35" x2="222.30" y2="330.35" stroke="#000" stroke-width="0.95"/>
<rect x="213.50" y="333.87" width="11.20" height="48.43" fill="#c4c4c4" stroke="#000" stroke-width="0.8"/>
<text x="219.10" y="325.95" font-size="5.8" text-anchor="middle" fill="#333">†</text>
<line x1="231.10" y1="341.79" x2="231.10" y2="339.19" stroke="#000" stroke-width="0.95"/>
<line x1="227.90" y1="339.19" x2="234.30" y2="339.19" stroke="#000" stroke-width="0.95"/>
<rect x="225.50" y="342.19" width="11.20" height="40.11" fill="#fff" stroke="#000" stroke-width="0.8"/>
<text x="231.10" y="334.79" font-size="5.8" text-anchor="middle" fill="#333">†</text>
<line x1="243.10" y1="322.03" x2="243.10" y2="317.35" stroke="#000" stroke-width="0.95"/>
<line x1="239.90" y1="317.35" x2="246.30" y2="317.35" stroke="#000" stroke-width="0.95"/>
<rect x="237.50" y="322.43" width="11.20" height="59.87" fill="#848484" stroke="#000" stroke-width="0.8"/>
<line x1="198.70" y1="382.30" x2="198.70" y2="385.10" stroke="#000" stroke-width="1.0"/>
<text transform="translate(226.79 386.90) rotate(-90)" font-size="7.2" text-anchor="end" style="stroke:none">III-30</text>
<line x1="260.50" y1="312.67" x2="260.50" y2="307.47" stroke="#000" stroke-width="0.95"/>
<line x1="257.30" y1="307.47" x2="263.70" y2="307.47" stroke="#000" stroke-width="0.95"/>
<rect x="254.90" y="313.07" width="11.20" height="69.23" fill="#000" stroke="#000" stroke-width="0.8"/>
<line x1="272.50" y1="328.27" x2="272.50" y2="325.15" stroke="#000" stroke-width="0.95"/>
<line x1="269.30" y1="325.15" x2="275.70" y2="325.15" stroke="#000" stroke-width="0.95"/>
<rect x="266.90" y="328.67" width="11.20" height="53.63" fill="#c4c4c4" stroke="#000" stroke-width="0.8"/>
<text x="272.50" y="320.75" font-size="5.8" text-anchor="middle" fill="#333">†</text>
<line x1="284.50" y1="332.43" x2="284.50" y2="329.83" stroke="#000" stroke-width="0.95"/>
<line x1="281.30" y1="329.83" x2="287.70" y2="329.83" stroke="#000" stroke-width="0.95"/>
<rect x="278.90" y="332.83" width="11.20" height="49.47" fill="#fff" stroke="#000" stroke-width="0.8"/>
<text x="284.50" y="325.43" font-size="5.8" text-anchor="middle" fill="#333">†</text>
<line x1="296.50" y1="316.31" x2="296.50" y2="311.11" stroke="#000" stroke-width="0.95"/>
<line x1="293.30" y1="311.11" x2="299.70" y2="311.11" stroke="#000" stroke-width="0.95"/>
<rect x="290.90" y="316.71" width="11.20" height="65.59" fill="#848484" stroke="#000" stroke-width="0.8"/>
<line x1="252.10" y1="382.30" x2="252.10" y2="385.10" stroke="#000" stroke-width="1.0"/>
<text transform="translate(280.19 386.90) rotate(-90)" font-size="7.2" text-anchor="end" style="stroke:none">CRP</text>
<line x1="313.90" y1="317.87" x2="313.90" y2="313.71" stroke="#000" stroke-width="0.95"/>
<line x1="310.70" y1="313.71" x2="317.10" y2="313.71" stroke="#000" stroke-width="0.95"/>
<rect x="308.30" y="318.27" width="11.20" height="64.03" fill="#000" stroke="#000" stroke-width="0.8"/>
<line x1="325.90" y1="349.59" x2="325.90" y2="346.99" stroke="#000" stroke-width="0.95"/>
<line x1="322.70" y1="346.99" x2="329.10" y2="346.99" stroke="#000" stroke-width="0.95"/>
<rect x="320.30" y="349.99" width="11.20" height="32.31" fill="#c4c4c4" stroke="#000" stroke-width="0.8"/>
<text x="325.90" y="342.59" font-size="5.8" text-anchor="middle" fill="#333">†</text>
<line x1="337.90" y1="370.91" x2="337.90" y2="369.87" stroke="#000" stroke-width="0.95"/>
<line x1="334.70" y1="369.87" x2="341.10" y2="369.87" stroke="#000" stroke-width="0.95"/>
<rect x="332.30" y="371.31" width="11.20" height="10.99" fill="#fff" stroke="#000" stroke-width="0.8"/>
<text x="337.00" y="366.17" font-size="5.8" text-anchor="middle" fill="#333"><tspan font-size="6.6" dy="0.8">*</tspan><tspan dy="-0.8">†</tspan></text>
<line x1="349.90" y1="369.35" x2="349.90" y2="367.27" stroke="#000" stroke-width="0.95"/>
<line x1="346.70" y1="367.27" x2="353.10" y2="367.27" stroke="#000" stroke-width="0.95"/>
<rect x="344.30" y="369.75" width="11.20" height="12.55" fill="#848484" stroke="#000" stroke-width="0.8"/>
<text x="349.00" y="363.57" font-size="5.8" text-anchor="middle" fill="#333"><tspan font-size="6.6" dy="0.8">*</tspan><tspan dy="-0.8">†</tspan></text>
<line x1="305.50" y1="382.30" x2="305.50" y2="385.10" stroke="#000" stroke-width="1.0"/>
<text transform="translate(333.59 384.50) rotate(-90)" font-size="7.2" text-anchor="end" style="stroke:none">GFOGER</text>
<line x1="367.30" y1="315.79" x2="367.30" y2="310.07" stroke="#000" stroke-width="0.95"/>
<line x1="364.10" y1="310.07" x2="370.50" y2="310.07" stroke="#000" stroke-width="0.95"/>
<rect x="361.70" y="316.19" width="11.20" height="66.11" fill="#000" stroke="#000" stroke-width="0.8"/>
<line x1="379.30" y1="327.75" x2="379.30" y2="324.11" stroke="#000" stroke-width="0.95"/>
<line x1="376.10" y1="324.11" x2="382.50" y2="324.11" stroke="#000" stroke-width="0.95"/>
<rect x="373.70" y="328.15" width="11.20" height="54.15" fill="#c4c4c4" stroke="#000" stroke-width="0.8"/>
<text x="379.30" y="319.71" font-size="5.8" text-anchor="middle" fill="#333">†</text>
<line x1="391.30" y1="329.31" x2="391.30" y2="325.15" stroke="#000" stroke-width="0.95"/>
<line x1="388.10" y1="325.15" x2="394.50" y2="325.15" stroke="#000" stroke-width="0.95"/>
<rect x="385.70" y="329.71" width="11.20" height="52.59" fill="#fff" stroke="#000" stroke-width="0.8"/>
<text x="391.30" y="320.75" font-size="5.8" text-anchor="middle" fill="#333">†</text>
<line x1="403.30" y1="320.99" x2="403.30" y2="316.31" stroke="#000" stroke-width="0.95"/>
<line x1="400.10" y1="316.31" x2="406.50" y2="316.31" stroke="#000" stroke-width="0.95"/>
<rect x="397.70" y="321.39" width="11.20" height="60.91" fill="#848484" stroke="#000" stroke-width="0.8"/>
<line x1="358.90" y1="382.30" x2="358.90" y2="385.10" stroke="#000" stroke-width="1.0"/>
<text transform="translate(386.99 386.90) rotate(-90)" font-size="7.2" text-anchor="end" style="stroke:none">Ethicon</text>
<line x1="420.70" y1="314.23" x2="420.70" y2="309.03" stroke="#000" stroke-width="0.95"/>
<line x1="417.50" y1="309.03" x2="423.90" y2="309.03" stroke="#000" stroke-width="0.95"/>
<rect x="415.10" y="314.63" width="11.20" height="67.67" fill="#000" stroke="#000" stroke-width="0.8"/>
<line x1="432.70" y1="330.35" x2="432.70" y2="326.71" stroke="#000" stroke-width="0.95"/>
<line x1="429.50" y1="326.71" x2="435.90" y2="326.71" stroke="#000" stroke-width="0.95"/>
<rect x="427.10" y="330.75" width="11.20" height="51.55" fill="#c4c4c4" stroke="#000" stroke-width="0.8"/>
<text x="432.70" y="322.31" font-size="5.8" text-anchor="middle" fill="#333">†</text>
<line x1="444.70" y1="344.39" x2="444.70" y2="340.75" stroke="#000" stroke-width="0.95"/>
<line x1="441.50" y1="340.75" x2="447.90" y2="340.75" stroke="#000" stroke-width="0.95"/>
<rect x="439.10" y="344.79" width="11.20" height="37.51" fill="#fff" stroke="#000" stroke-width="0.8"/>
<text x="444.70" y="336.35" font-size="5.8" text-anchor="middle" fill="#333">†</text>
<line x1="456.70" y1="320.99" x2="456.70" y2="316.31" stroke="#000" stroke-width="0.95"/>
<line x1="453.50" y1="316.31" x2="459.90" y2="316.31" stroke="#000" stroke-width="0.95"/>
<rect x="451.10" y="321.39" width="11.20" height="60.91" fill="#848484" stroke="#000" stroke-width="0.8"/>
<line x1="412.30" y1="382.30" x2="412.30" y2="385.10" stroke="#000" stroke-width="1.0"/>
<text transform="translate(440.39 386.90) rotate(-90)" font-size="7.2" text-anchor="end" style="stroke:none">Horm</text>
<line x1="474.10" y1="316.83" x2="474.10" y2="312.15" stroke="#000" stroke-width="0.95"/>
<line x1="470.90" y1="312.15" x2="477.30" y2="312.15" stroke="#000" stroke-width="0.95"/>
<rect x="468.50" y="317.23" width="11.20" height="65.07" fill="#000" stroke="#000" stroke-width="0.8"/>
<line x1="486.10" y1="337.11" x2="486.10" y2="332.43" stroke="#000" stroke-width="0.95"/>
<line x1="482.90" y1="332.43" x2="489.30" y2="332.43" stroke="#000" stroke-width="0.95"/>
<rect x="480.50" y="337.51" width="11.20" height="44.79" fill="#c4c4c4" stroke="#000" stroke-width="0.8"/>
<text x="486.10" y="328.03" font-size="5.8" text-anchor="middle" fill="#333">†</text>
<line x1="498.10" y1="375.07" x2="498.10" y2="374.81" stroke="#000" stroke-width="0.95"/>
<line x1="494.90" y1="374.81" x2="501.30" y2="374.81" stroke="#000" stroke-width="0.95"/>
<rect x="492.50" y="375.47" width="11.20" height="6.83" fill="#fff" stroke="#000" stroke-width="0.8"/>
<text x="497.20" y="371.11" font-size="5.8" text-anchor="middle" fill="#333"><tspan font-size="6.6" dy="0.8">*</tspan><tspan dy="-0.8">†</tspan></text>
<line x1="510.10" y1="374.55" x2="510.10" y2="374.29" stroke="#000" stroke-width="0.95"/>
<line x1="506.90" y1="374.29" x2="513.30" y2="374.29" stroke="#000" stroke-width="0.95"/>
<rect x="504.50" y="374.95" width="11.20" height="7.35" fill="#848484" stroke="#000" stroke-width="0.8"/>
<text x="509.20" y="370.59" font-size="5.8" text-anchor="middle" fill="#333"><tspan font-size="6.6" dy="0.8">*</tspan><tspan dy="-0.8">†</tspan></text>
<line x1="465.70" y1="382.30" x2="465.70" y2="385.10" stroke="#000" stroke-width="1.0"/>
<text transform="translate(493.79 386.90) rotate(-90)" font-size="7.2" text-anchor="end" style="stroke:none">PDI</text>
<line x1="518.50" y1="382.30" x2="518.50" y2="385.10" stroke="#000" stroke-width="1.0"/>
<line x1="38.10" y1="382.30" x2="518.90" y2="382.30" stroke="#000" stroke-width="0.95"/>
<line x1="38.50" y1="304.12" x2="38.50" y2="382.70" stroke="#000" stroke-width="0.95"/>
<line x1="35.90" y1="382.30" x2="38.50" y2="382.30" stroke="#000" stroke-width="0.95"/>
<text x="33.50" y="384.50" font-size="7.2" text-anchor="end" font-weight="normal" fill="#000">0.0</text>
<line x1="35.90" y1="356.38" x2="38.50" y2="356.38" stroke="#000" stroke-width="0.95"/>
<text x="33.50" y="358.57" font-size="7.2" text-anchor="end" font-weight="normal" fill="#000">0.5</text>
<line x1="35.90" y1="330.45" x2="38.50" y2="330.45" stroke="#000" stroke-width="0.95"/>
<text x="33.50" y="332.65" font-size="7.2" text-anchor="end" font-weight="normal" fill="#000">1.0</text>
<line x1="35.90" y1="304.52" x2="38.50" y2="304.52" stroke="#000" stroke-width="0.95"/>
<text x="33.50" y="306.72" font-size="7.2" text-anchor="end" font-weight="normal" fill="#000">1.5</text>
<text transform="translate(7.5 337.90) rotate(-90)" font-size="9.2" font-style="italic" style="stroke-width:0.3px" text-anchor="middle">ABS<tspan font-size="5.7" dy="1.9">405</tspan></text>
<text transform="translate(16.6 334.40) rotate(-90)" font-size="7.85" text-anchor="middle">(mean ± s.e.; n=6)</text>
<rect x="47.20" y="297.00" width="6.00" height="6.00" fill="#000" stroke="#000" stroke-width="0.9"/>
<text x="60.90" y="303.50" font-size="8.6" text-anchor="start" font-weight="normal" fill="#000">Control</text>
<rect x="47.20" y="307.80" width="6.00" height="6.00" fill="#c4c4c4" stroke="#000" stroke-width="0.9"/>
<text x="60.90" y="314.30" font-size="8.6" text-anchor="start" font-weight="normal" fill="#000">GR144053F</text>
<rect x="47.20" y="318.50" width="6.00" height="6.00" fill="#fff" stroke="#000" stroke-width="0.9"/>
<text x="60.90" y="325.00" font-size="8.6" text-anchor="start" font-weight="normal" fill="#000">EDTA</text>
<rect x="47.20" y="329.30" width="6.00" height="6.00" fill="#848484" stroke="#000" stroke-width="0.9"/>
<text x="60.90" y="335.80" font-size="8.6" text-anchor="start" font-weight="normal" fill="#000">6F1</text>
</svg>
</body>
</html>
